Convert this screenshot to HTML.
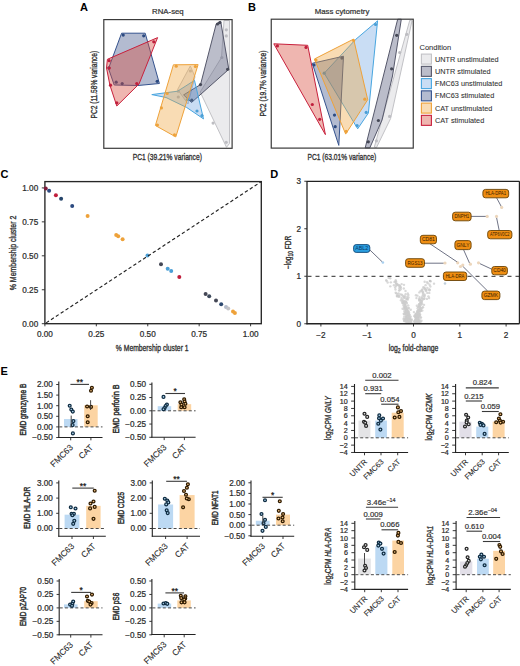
<!DOCTYPE html>
<html><head><meta charset="utf-8"><style>
html,body{margin:0;padding:0;background:#fff;}
svg{display:block;font-family:"Liberation Sans",sans-serif;}
.cd{font-weight:normal;stroke:#333;stroke-width:0.35px;}
.cd2{font-weight:normal;stroke:#333;stroke-width:0.5px;}
</style></head><body>
<svg width="520" height="666" viewBox="0 0 520 666">
<rect width="520" height="666" fill="#fff"/>
<text x="80" y="11" font-size="11" text-anchor="start" fill="#000" font-weight="bold">A</text>
<text x="167.9" y="13.6" font-size="7.8" text-anchor="middle" fill="#333333" stroke="#333333" stroke-width="0.22">RNA-seq</text>
<polygon points="224,20.5 229.5,20.5 229.5,143.5 226.5,147.3 200.2,92 221.5,57.5" fill="#c4c4ca" fill-opacity="0.34" stroke="#c2c2c6" stroke-width="1.0" stroke-linejoin="round"/>
<polygon points="190.3,66 195,76.8 188,104 177.6,89.5" fill="#c4c4ca" fill-opacity="0.34" stroke="#c2c2c6" stroke-width="1.0" stroke-linejoin="round"/>
<circle cx="190.4" cy="71" r="1.6" fill="#bdbdc2" stroke="none" stroke-width="1" opacity="1"/>
<circle cx="178.3" cy="91.2" r="1.6" fill="#bdbdc2" stroke="none" stroke-width="1" opacity="1"/>
<circle cx="178.3" cy="97" r="1.6" fill="#bdbdc2" stroke="none" stroke-width="1" opacity="1"/>
<circle cx="226.3" cy="29.8" r="1.6" fill="#bdbdc2" stroke="none" stroke-width="1" opacity="1"/>
<circle cx="226.3" cy="35.9" r="1.6" fill="#bdbdc2" stroke="none" stroke-width="1" opacity="1"/>
<circle cx="221.8" cy="57.5" r="1.6" fill="#bdbdc2" stroke="none" stroke-width="1" opacity="1"/>
<circle cx="213.1" cy="123.1" r="1.6" fill="#bdbdc2" stroke="none" stroke-width="1" opacity="1"/>
<circle cx="226.2" cy="142.3" r="1.6" fill="#bdbdc2" stroke="none" stroke-width="1" opacity="1"/>
<polygon points="216.2,24 220.7,21.3 228.8,69.3 191.5,102.5 183.6,94.9 200.5,84.6" fill="#686c8a" fill-opacity="0.45" stroke="#55576a" stroke-width="1.0" stroke-linejoin="round"/>
<circle cx="217.5" cy="24" r="1.6" fill="#444755" stroke="none" stroke-width="1" opacity="1"/>
<circle cx="219.8" cy="22.6" r="1.6" fill="#444755" stroke="none" stroke-width="1" opacity="1"/>
<circle cx="227.6" cy="69.3" r="1.6" fill="#444755" stroke="none" stroke-width="1" opacity="1"/>
<circle cx="200.5" cy="84.6" r="1.6" fill="#444755" stroke="none" stroke-width="1" opacity="1"/>
<circle cx="191.8" cy="100.2" r="1.6" fill="#444755" stroke="none" stroke-width="1" opacity="1"/>
<polygon points="151.8,94.6 177.6,91.2 194.5,80.4 203.5,118.9 186.7,107.5 166,97.5" fill="#5090dc" fill-opacity="0.31" stroke="#48a6e0" stroke-width="1.0" stroke-linejoin="round"/>
<circle cx="197" cy="111" r="1.6" fill="#4a9fd6" stroke="none" stroke-width="1" opacity="1"/>
<circle cx="202" cy="115.5" r="1.6" fill="#4a9fd6" stroke="none" stroke-width="1" opacity="1"/>
<circle cx="187.5" cy="99.5" r="1.6" fill="#4a9fd6" stroke="none" stroke-width="1" opacity="1"/>
<polygon points="121.6,33.2 145.2,33.2 159.4,83.5 138,85.5 114.2,85 108.5,68.5" fill="#4a5c90" fill-opacity="0.42" stroke="#35538e" stroke-width="1.0" stroke-linejoin="round"/>
<circle cx="123.2" cy="35.1" r="1.6" fill="#2c4a80" stroke="none" stroke-width="1" opacity="1"/>
<circle cx="143.7" cy="35.8" r="1.6" fill="#2c4a80" stroke="none" stroke-width="1" opacity="1"/>
<circle cx="157.2" cy="81.3" r="1.6" fill="#2c4a80" stroke="none" stroke-width="1" opacity="1"/>
<circle cx="116.2" cy="82.2" r="1.6" fill="#2c4a80" stroke="none" stroke-width="1" opacity="1"/>
<circle cx="122.2" cy="83.6" r="1.6" fill="#2c4a80" stroke="none" stroke-width="1" opacity="1"/>
<circle cx="108.8" cy="67.8" r="1.6" fill="#2c4a80" stroke="none" stroke-width="1" opacity="1"/>
<polygon points="173.4,64.8 198.1,64.6 175.8,136.9 155.4,125.5" fill="#eea23a" fill-opacity="0.38" stroke="#eea23a" stroke-width="1.0" stroke-linejoin="round"/>
<circle cx="176.2" cy="66.2" r="1.6" fill="#eea23a" stroke="none" stroke-width="1" opacity="1"/>
<circle cx="195.4" cy="66.5" r="1.6" fill="#eea23a" stroke="none" stroke-width="1" opacity="1"/>
<circle cx="161.4" cy="107.9" r="1.6" fill="#eea23a" stroke="none" stroke-width="1" opacity="1"/>
<circle cx="157.4" cy="125" r="1.6" fill="#eea23a" stroke="none" stroke-width="1" opacity="1"/>
<circle cx="174.5" cy="134.9" r="1.6" fill="#eea23a" stroke="none" stroke-width="1" opacity="1"/>
<circle cx="167.2" cy="93.5" r="1.6" fill="#eea23a" stroke="none" stroke-width="1" opacity="1"/>
<polygon points="157.6,37.6 139,84 116.8,106 110,85.5 106.5,68 107.4,59.3" fill="#d8483a" fill-opacity="0.4" stroke="#c8203c" stroke-width="1.0" stroke-linejoin="round"/>
<circle cx="153.8" cy="41.8" r="1.6" fill="#c01e3c" stroke="none" stroke-width="1" opacity="1"/>
<circle cx="109.2" cy="60.7" r="1.6" fill="#c01e3c" stroke="none" stroke-width="1" opacity="1"/>
<circle cx="109.2" cy="68.1" r="1.6" fill="#c01e3c" stroke="none" stroke-width="1" opacity="1"/>
<circle cx="110.5" cy="85.2" r="1.6" fill="#c01e3c" stroke="none" stroke-width="1" opacity="1"/>
<circle cx="116.8" cy="102.8" r="1.6" fill="#c01e3c" stroke="none" stroke-width="1" opacity="1"/>
<circle cx="136.8" cy="83.6" r="1.6" fill="#c01e3c" stroke="none" stroke-width="1" opacity="1"/>
<rect x="103.8" y="19.6" width="128.3" height="128.7" fill="none" stroke="#3a3a3a" stroke-width="1.2" rx="0" />
<text class="cd" x="167.3" y="160.2" font-size="9.3" text-anchor="middle" fill="#333333" textLength="69.2" lengthAdjust="spacingAndGlyphs">PC1 (39.21% variance)</text>
<text class="cd" x="97.3" y="84.6" font-size="9.3" text-anchor="middle" fill="#333333" textLength="67.6" lengthAdjust="spacingAndGlyphs" transform="rotate(-90 97.3 84.6)">PC2 (11.58% variance)</text>
<text x="248" y="10.5" font-size="11" text-anchor="start" fill="#000" font-weight="bold">B</text>
<text x="342" y="13.9" font-size="7.8" text-anchor="middle" fill="#333333" stroke="#333333" stroke-width="0.22">Mass cytometry</text>
<polygon points="409.8,20.2 412,20.8 390.6,118.5 376.5,147.5 374.3,147.2" fill="#c4c4ca" fill-opacity="0.34" stroke="#c2c2c6" stroke-width="1.0" stroke-linejoin="round"/>
<circle cx="406.8" cy="34.3" r="1.6" fill="#bdbdc2" stroke="none" stroke-width="1" opacity="1"/>
<circle cx="399.7" cy="52.5" r="1.6" fill="#bdbdc2" stroke="none" stroke-width="1" opacity="1"/>
<circle cx="389.6" cy="116.4" r="1.6" fill="#bdbdc2" stroke="none" stroke-width="1" opacity="1"/>
<circle cx="376.4" cy="140.8" r="1.6" fill="#bdbdc2" stroke="none" stroke-width="1" opacity="1"/>
<polygon points="397.7,19.2 401.3,19.2 392.5,76 382.1,119.8 369.8,147.9 365.2,147.9" fill="#686c8a" fill-opacity="0.45" stroke="#55576a" stroke-width="1.0" stroke-linejoin="round"/>
<circle cx="396.7" cy="35.3" r="1.6" fill="#444755" stroke="none" stroke-width="1" opacity="1"/>
<circle cx="391.6" cy="68.8" r="1.6" fill="#444755" stroke="none" stroke-width="1" opacity="1"/>
<circle cx="378.4" cy="120.5" r="1.6" fill="#444755" stroke="none" stroke-width="1" opacity="1"/>
<circle cx="368.3" cy="141.8" r="1.6" fill="#444755" stroke="none" stroke-width="1" opacity="1"/>
<polygon points="377.6,20.8 355.8,39.3 324.2,73.2 357.7,128.8 368.4,113" fill="#5090dc" fill-opacity="0.31" stroke="#48a6e0" stroke-width="1.0" stroke-linejoin="round"/>
<circle cx="375.6" cy="24.5" r="1.6" fill="#4a9fd6" stroke="none" stroke-width="1" opacity="1"/>
<circle cx="324.2" cy="73.2" r="1.6" fill="#4a9fd6" stroke="none" stroke-width="1" opacity="1"/>
<circle cx="366.2" cy="112.4" r="1.6" fill="#4a9fd6" stroke="none" stroke-width="1" opacity="1"/>
<circle cx="357.1" cy="125.6" r="1.6" fill="#4a9fd6" stroke="none" stroke-width="1" opacity="1"/>
<polygon points="312.3,63.3 343.5,56.2 338.8,145.4" fill="#4a5c90" fill-opacity="0.42" stroke="#35538e" stroke-width="1.0" stroke-linejoin="round"/>
<circle cx="314" cy="65" r="1.6" fill="#2c4a80" stroke="none" stroke-width="1" opacity="1"/>
<circle cx="341.9" cy="58.1" r="1.6" fill="#2c4a80" stroke="none" stroke-width="1" opacity="1"/>
<circle cx="334.5" cy="115.1" r="1.6" fill="#2c4a80" stroke="none" stroke-width="1" opacity="1"/>
<circle cx="335.2" cy="126.7" r="1.6" fill="#2c4a80" stroke="none" stroke-width="1" opacity="1"/>
<polygon points="314.4,59 353.6,39.1 367.7,99.7 345.7,134.1" fill="#eea23a" fill-opacity="0.38" stroke="#eea23a" stroke-width="1.0" stroke-linejoin="round"/>
<circle cx="316" cy="60.1" r="1.6" fill="#eea23a" stroke="none" stroke-width="1" opacity="1"/>
<circle cx="353.6" cy="40.5" r="1.6" fill="#eea23a" stroke="none" stroke-width="1" opacity="1"/>
<circle cx="364.8" cy="99.2" r="1.6" fill="#eea23a" stroke="none" stroke-width="1" opacity="1"/>
<circle cx="346.2" cy="131.4" r="1.6" fill="#eea23a" stroke="none" stroke-width="1" opacity="1"/>
<polygon points="273.8,43.8 307.7,45.3 325.4,134.6" fill="#d8483a" fill-opacity="0.4" stroke="#c8203c" stroke-width="1.0" stroke-linejoin="round"/>
<circle cx="277.4" cy="45.9" r="1.6" fill="#c01e3c" stroke="none" stroke-width="1" opacity="1"/>
<circle cx="306" cy="47.4" r="1.6" fill="#c01e3c" stroke="none" stroke-width="1" opacity="1"/>
<circle cx="312.3" cy="104.5" r="1.6" fill="#c01e3c" stroke="none" stroke-width="1" opacity="1"/>
<circle cx="319.7" cy="119.3" r="1.6" fill="#c01e3c" stroke="none" stroke-width="1" opacity="1"/>
<rect x="271.25" y="19.2" width="142" height="128.9" fill="none" stroke="#3a3a3a" stroke-width="1.2" rx="0" />
<text class="cd" x="341.9" y="160.3" font-size="9.3" text-anchor="middle" fill="#333333" textLength="68.7" lengthAdjust="spacingAndGlyphs">PC1 (63.01% variance)</text>
<text class="cd" x="266.1" y="83.5" font-size="9.3" text-anchor="middle" fill="#333333" textLength="66.1" lengthAdjust="spacingAndGlyphs" transform="rotate(-90 266.1 83.5)">PC2 (19.7% variance)</text>
<text x="419.5" y="49.6" font-size="7.5" text-anchor="start" fill="#333333" stroke="#333333" stroke-width="0.08">Condition</text>
<rect x="421.4" y="54.1" width="10" height="10" fill="#c4c4ca" stroke="#c2c2c6" stroke-width="1.1" rx="0" fill-opacity="0.34"/>
<text x="435" y="61.7" font-size="7.3" text-anchor="start" fill="#333333" stroke="#333333" stroke-width="0.08">UNTR unstimulated</text>
<rect x="421.4" y="66.35" width="10" height="10" fill="#686c8a" stroke="#55576a" stroke-width="1.1" rx="0" fill-opacity="0.45"/>
<text x="435" y="73.95" font-size="7.3" text-anchor="start" fill="#333333" stroke="#333333" stroke-width="0.08">UNTR stimulated</text>
<rect x="421.4" y="78.6" width="10" height="10" fill="#5090dc" stroke="#48a6e0" stroke-width="1.1" rx="0" fill-opacity="0.31"/>
<text x="435" y="86.2" font-size="7.3" text-anchor="start" fill="#333333" stroke="#333333" stroke-width="0.08">FMC63 unstimulated</text>
<rect x="421.4" y="90.85" width="10" height="10" fill="#4a5c90" stroke="#35538e" stroke-width="1.1" rx="0" fill-opacity="0.42"/>
<text x="435" y="98.45" font-size="7.3" text-anchor="start" fill="#333333" stroke="#333333" stroke-width="0.08">FMC63 stimulated</text>
<rect x="421.4" y="103.1" width="10" height="10" fill="#eea23a" stroke="#eea23a" stroke-width="1.1" rx="0" fill-opacity="0.38"/>
<text x="435" y="110.7" font-size="7.3" text-anchor="start" fill="#333333" stroke="#333333" stroke-width="0.08">CAT unstimulated</text>
<rect x="421.4" y="115.35" width="10" height="10" fill="#d8483a" stroke="#c8203c" stroke-width="1.1" rx="0" fill-opacity="0.4"/>
<text x="435" y="122.95" font-size="7.3" text-anchor="start" fill="#333333" stroke="#333333" stroke-width="0.08">CAT stimulated</text>
<text x="0.5" y="178" font-size="11" text-anchor="start" fill="#000" font-weight="bold">C</text>
<rect x="44.9" y="181.6" width="216.4" height="142.1" fill="none" stroke="#262626" stroke-width="1.35" rx="0" />
<line x1="44.9" y1="323.7" x2="44.9" y2="326.3" stroke="#222" stroke-width="0.9" />
<text x="44.9" y="337.3" font-size="8.2" text-anchor="middle" fill="#2b2b2b" stroke="#2b2b2b" stroke-width="0.22">0.00</text>
<line x1="41.8" y1="323.7" x2="44.7" y2="323.7" stroke="#222" stroke-width="0.9" />
<text x="38.2" y="326.6" font-size="8.2" text-anchor="end" fill="#2b2b2b" stroke="#2b2b2b" stroke-width="0.22">0.00</text>
<line x1="96.32" y1="323.7" x2="96.32" y2="326.3" stroke="#222" stroke-width="0.9" />
<text x="96.32" y="337.3" font-size="8.2" text-anchor="middle" fill="#2b2b2b" stroke="#2b2b2b" stroke-width="0.22">0.25</text>
<line x1="41.8" y1="289.75" x2="44.7" y2="289.75" stroke="#222" stroke-width="0.9" />
<text x="38.2" y="292.65" font-size="8.2" text-anchor="end" fill="#2b2b2b" stroke="#2b2b2b" stroke-width="0.22">0.25</text>
<line x1="147.75" y1="323.7" x2="147.75" y2="326.3" stroke="#222" stroke-width="0.9" />
<text x="147.75" y="337.3" font-size="8.2" text-anchor="middle" fill="#2b2b2b" stroke="#2b2b2b" stroke-width="0.22">0.50</text>
<line x1="41.8" y1="255.8" x2="44.7" y2="255.8" stroke="#222" stroke-width="0.9" />
<text x="38.2" y="258.7" font-size="8.2" text-anchor="end" fill="#2b2b2b" stroke="#2b2b2b" stroke-width="0.22">0.50</text>
<line x1="199.17" y1="323.7" x2="199.17" y2="326.3" stroke="#222" stroke-width="0.9" />
<text x="199.17" y="337.3" font-size="8.2" text-anchor="middle" fill="#2b2b2b" stroke="#2b2b2b" stroke-width="0.22">0.75</text>
<line x1="41.8" y1="221.85" x2="44.7" y2="221.85" stroke="#222" stroke-width="0.9" />
<text x="38.2" y="224.75" font-size="8.2" text-anchor="end" fill="#2b2b2b" stroke="#2b2b2b" stroke-width="0.22">0.75</text>
<line x1="250.6" y1="323.7" x2="250.6" y2="326.3" stroke="#222" stroke-width="0.9" />
<text x="250.6" y="337.3" font-size="8.2" text-anchor="middle" fill="#2b2b2b" stroke="#2b2b2b" stroke-width="0.22">1.00</text>
<line x1="41.8" y1="187.9" x2="44.7" y2="187.9" stroke="#222" stroke-width="0.9" />
<text x="38.2" y="190.8" font-size="8.2" text-anchor="end" fill="#2b2b2b" stroke="#2b2b2b" stroke-width="0.22">1.00</text>
<circle cx="45.75" cy="188.5" r="2.0" fill="#7e1c3c" stroke="none" stroke-width="1" opacity="1"/>
<circle cx="49.1" cy="190.7" r="2.0" fill="#2c4a80" stroke="none" stroke-width="1" opacity="1"/>
<circle cx="55.9" cy="195.2" r="2.0" fill="#c01e3c" stroke="none" stroke-width="1" opacity="1"/>
<circle cx="61.1" cy="198.7" r="2.0" fill="#25456a" stroke="none" stroke-width="1" opacity="1"/>
<circle cx="72.2" cy="206" r="2.0" fill="#2c4a80" stroke="none" stroke-width="1" opacity="1"/>
<circle cx="87.6" cy="216" r="2.0" fill="#eea23a" stroke="none" stroke-width="1" opacity="1"/>
<circle cx="116.2" cy="235" r="2.0" fill="#eea23a" stroke="none" stroke-width="1" opacity="1"/>
<circle cx="118.2" cy="236.2" r="2.0" fill="#eea23a" stroke="none" stroke-width="1" opacity="1"/>
<circle cx="122.6" cy="239.2" r="2.0" fill="#eea23a" stroke="none" stroke-width="1" opacity="1"/>
<circle cx="147.5" cy="255.4" r="2.0" fill="#4a9fd6" stroke="none" stroke-width="1" opacity="1"/>
<circle cx="161" cy="264.3" r="2.0" fill="#444755" stroke="none" stroke-width="1" opacity="1"/>
<circle cx="167.7" cy="268.8" r="2.0" fill="#4a9fd6" stroke="none" stroke-width="1" opacity="1"/>
<circle cx="171.2" cy="271" r="2.0" fill="#4a9fd6" stroke="none" stroke-width="1" opacity="1"/>
<circle cx="179.3" cy="276.9" r="2.0" fill="#c01e3c" stroke="none" stroke-width="1" opacity="1"/>
<circle cx="205.6" cy="294.1" r="2.0" fill="#444755" stroke="none" stroke-width="1" opacity="1"/>
<circle cx="209.2" cy="296.3" r="2.0" fill="#3e4a5c" stroke="none" stroke-width="1" opacity="1"/>
<circle cx="216" cy="300.4" r="2.0" fill="#444755" stroke="none" stroke-width="1" opacity="1"/>
<circle cx="221.2" cy="304.2" r="2.0" fill="#2e4a70" stroke="none" stroke-width="1" opacity="1"/>
<circle cx="226" cy="307.1" r="2.0" fill="#b4bccb" stroke="none" stroke-width="1" opacity="1"/>
<circle cx="228.2" cy="308.6" r="2.0" fill="#c4c4c8" stroke="none" stroke-width="1" opacity="1"/>
<circle cx="233" cy="311.4" r="2.0" fill="#eea23a" stroke="none" stroke-width="1" opacity="1"/>
<circle cx="234.9" cy="312.9" r="2.0" fill="#eea23a" stroke="none" stroke-width="1" opacity="1"/>
<line x1="44.9" y1="323.7" x2="261.3" y2="181.6" stroke="#222" stroke-width="1.15" stroke-dasharray="3.4,2.4" stroke-dashoffset="-1.5"/>
<text class="cd" x="152.2" y="351.3" font-size="9" text-anchor="middle" fill="#333333" textLength="72.7" lengthAdjust="spacingAndGlyphs">% Membership cluster 1</text>
<text class="cd" x="16.2" y="253" font-size="9" text-anchor="middle" fill="#333333" textLength="74.5" lengthAdjust="spacingAndGlyphs" transform="rotate(-90 16.2 253)">% Membership cluster 2</text>
<text x="270.3" y="178" font-size="11" text-anchor="start" fill="#000" font-weight="bold">D</text>
<circle cx="415.07" cy="314.55" r="1.2" fill="#cccccc" stroke="none" stroke-width="1" opacity="0.75"/>
<circle cx="417.99" cy="321.05" r="1.2" fill="#cccccc" stroke="none" stroke-width="1" opacity="0.75"/>
<circle cx="404.34" cy="306.77" r="1.2" fill="#cccccc" stroke="none" stroke-width="1" opacity="0.75"/>
<circle cx="407.51" cy="322.03" r="1.2" fill="#cccccc" stroke="none" stroke-width="1" opacity="0.75"/>
<circle cx="421.59" cy="308.5" r="1.2" fill="#cccccc" stroke="none" stroke-width="1" opacity="0.75"/>
<circle cx="406.16" cy="307.5" r="1.2" fill="#cccccc" stroke="none" stroke-width="1" opacity="0.75"/>
<circle cx="404.59" cy="307.12" r="1.2" fill="#cccccc" stroke="none" stroke-width="1" opacity="0.75"/>
<circle cx="407.65" cy="320.22" r="1.2" fill="#cccccc" stroke="none" stroke-width="1" opacity="0.75"/>
<circle cx="416.42" cy="298.09" r="1.2" fill="#cccccc" stroke="none" stroke-width="1" opacity="0.75"/>
<circle cx="419.69" cy="311.95" r="1.2" fill="#cccccc" stroke="none" stroke-width="1" opacity="0.75"/>
<circle cx="408.03" cy="312.75" r="1.2" fill="#cccccc" stroke="none" stroke-width="1" opacity="0.75"/>
<circle cx="396.06" cy="281.5" r="1.2" fill="#cccccc" stroke="none" stroke-width="1" opacity="0.75"/>
<circle cx="420.95" cy="302.46" r="1.2" fill="#cccccc" stroke="none" stroke-width="1" opacity="0.75"/>
<circle cx="410.21" cy="322.27" r="1.2" fill="#cccccc" stroke="none" stroke-width="1" opacity="0.75"/>
<circle cx="414.72" cy="316.3" r="1.2" fill="#cccccc" stroke="none" stroke-width="1" opacity="0.75"/>
<circle cx="396.2" cy="293.35" r="1.2" fill="#cccccc" stroke="none" stroke-width="1" opacity="0.75"/>
<circle cx="406.61" cy="316.4" r="1.2" fill="#cccccc" stroke="none" stroke-width="1" opacity="0.75"/>
<circle cx="405.97" cy="309.88" r="1.2" fill="#cccccc" stroke="none" stroke-width="1" opacity="0.75"/>
<circle cx="415.68" cy="322.06" r="1.2" fill="#cccccc" stroke="none" stroke-width="1" opacity="0.75"/>
<circle cx="416.94" cy="322.29" r="1.2" fill="#cccccc" stroke="none" stroke-width="1" opacity="0.75"/>
<circle cx="408.82" cy="320.14" r="1.2" fill="#cccccc" stroke="none" stroke-width="1" opacity="0.75"/>
<circle cx="417.19" cy="322.3" r="1.2" fill="#cccccc" stroke="none" stroke-width="1" opacity="0.75"/>
<circle cx="417.98" cy="310.2" r="1.2" fill="#cccccc" stroke="none" stroke-width="1" opacity="0.75"/>
<circle cx="408.09" cy="312.38" r="1.2" fill="#cccccc" stroke="none" stroke-width="1" opacity="0.75"/>
<circle cx="406.7" cy="316.47" r="1.2" fill="#cccccc" stroke="none" stroke-width="1" opacity="0.75"/>
<circle cx="417.22" cy="322.3" r="1.2" fill="#cccccc" stroke="none" stroke-width="1" opacity="0.75"/>
<circle cx="408.15" cy="321.08" r="1.2" fill="#cccccc" stroke="none" stroke-width="1" opacity="0.75"/>
<circle cx="408.01" cy="322.25" r="1.2" fill="#cccccc" stroke="none" stroke-width="1" opacity="0.75"/>
<circle cx="424.45" cy="298.44" r="1.2" fill="#cccccc" stroke="none" stroke-width="1" opacity="0.75"/>
<circle cx="424.55" cy="294.56" r="1.2" fill="#cccccc" stroke="none" stroke-width="1" opacity="0.75"/>
<circle cx="405.71" cy="309.11" r="1.2" fill="#cccccc" stroke="none" stroke-width="1" opacity="0.75"/>
<circle cx="415.68" cy="322.29" r="1.2" fill="#cccccc" stroke="none" stroke-width="1" opacity="0.75"/>
<circle cx="429.59" cy="284.74" r="1.2" fill="#cccccc" stroke="none" stroke-width="1" opacity="0.75"/>
<circle cx="400.48" cy="294.41" r="1.2" fill="#cccccc" stroke="none" stroke-width="1" opacity="0.75"/>
<circle cx="408.96" cy="321.49" r="1.2" fill="#cccccc" stroke="none" stroke-width="1" opacity="0.75"/>
<circle cx="402.48" cy="295.43" r="1.2" fill="#cccccc" stroke="none" stroke-width="1" opacity="0.75"/>
<circle cx="406.41" cy="306.81" r="1.2" fill="#cccccc" stroke="none" stroke-width="1" opacity="0.75"/>
<circle cx="422.13" cy="303.66" r="1.2" fill="#cccccc" stroke="none" stroke-width="1" opacity="0.75"/>
<circle cx="408.79" cy="315.62" r="1.2" fill="#cccccc" stroke="none" stroke-width="1" opacity="0.75"/>
<circle cx="417.13" cy="321.91" r="1.2" fill="#cccccc" stroke="none" stroke-width="1" opacity="0.75"/>
<circle cx="419.7" cy="319.94" r="1.2" fill="#cccccc" stroke="none" stroke-width="1" opacity="0.75"/>
<circle cx="403.91" cy="319.18" r="1.2" fill="#cccccc" stroke="none" stroke-width="1" opacity="0.75"/>
<circle cx="415.07" cy="321.77" r="1.2" fill="#cccccc" stroke="none" stroke-width="1" opacity="0.75"/>
<circle cx="406.94" cy="310.2" r="1.2" fill="#cccccc" stroke="none" stroke-width="1" opacity="0.75"/>
<circle cx="404.61" cy="320.84" r="1.2" fill="#cccccc" stroke="none" stroke-width="1" opacity="0.75"/>
<circle cx="416.39" cy="322.15" r="1.2" fill="#cccccc" stroke="none" stroke-width="1" opacity="0.75"/>
<circle cx="417.22" cy="321.23" r="1.2" fill="#cccccc" stroke="none" stroke-width="1" opacity="0.75"/>
<circle cx="405.8" cy="311.45" r="1.2" fill="#cccccc" stroke="none" stroke-width="1" opacity="0.75"/>
<circle cx="418.54" cy="314.62" r="1.2" fill="#cccccc" stroke="none" stroke-width="1" opacity="0.75"/>
<circle cx="408.18" cy="305.33" r="1.2" fill="#cccccc" stroke="none" stroke-width="1" opacity="0.75"/>
<circle cx="416.28" cy="313.72" r="1.2" fill="#cccccc" stroke="none" stroke-width="1" opacity="0.75"/>
<circle cx="402.2" cy="302.86" r="1.2" fill="#cccccc" stroke="none" stroke-width="1" opacity="0.75"/>
<circle cx="418.58" cy="313.44" r="1.2" fill="#cccccc" stroke="none" stroke-width="1" opacity="0.75"/>
<circle cx="406.01" cy="318.58" r="1.2" fill="#cccccc" stroke="none" stroke-width="1" opacity="0.75"/>
<circle cx="402.93" cy="300.7" r="1.2" fill="#cccccc" stroke="none" stroke-width="1" opacity="0.75"/>
<circle cx="419.56" cy="297.09" r="1.2" fill="#cccccc" stroke="none" stroke-width="1" opacity="0.75"/>
<circle cx="429.09" cy="289.37" r="1.2" fill="#cccccc" stroke="none" stroke-width="1" opacity="0.75"/>
<circle cx="395.92" cy="285.95" r="1.2" fill="#cccccc" stroke="none" stroke-width="1" opacity="0.75"/>
<circle cx="418.09" cy="307.02" r="1.2" fill="#cccccc" stroke="none" stroke-width="1" opacity="0.75"/>
<circle cx="408.05" cy="316.95" r="1.2" fill="#cccccc" stroke="none" stroke-width="1" opacity="0.75"/>
<circle cx="419.44" cy="306.27" r="1.2" fill="#cccccc" stroke="none" stroke-width="1" opacity="0.75"/>
<circle cx="420.6" cy="290.97" r="1.2" fill="#cccccc" stroke="none" stroke-width="1" opacity="0.75"/>
<circle cx="420.84" cy="309.19" r="1.2" fill="#cccccc" stroke="none" stroke-width="1" opacity="0.75"/>
<circle cx="408.97" cy="314.18" r="1.2" fill="#cccccc" stroke="none" stroke-width="1" opacity="0.75"/>
<circle cx="408.05" cy="318.79" r="1.2" fill="#cccccc" stroke="none" stroke-width="1" opacity="0.75"/>
<circle cx="406.18" cy="313.49" r="1.2" fill="#cccccc" stroke="none" stroke-width="1" opacity="0.75"/>
<circle cx="421.77" cy="297.97" r="1.2" fill="#cccccc" stroke="none" stroke-width="1" opacity="0.75"/>
<circle cx="408.6" cy="319.96" r="1.2" fill="#cccccc" stroke="none" stroke-width="1" opacity="0.75"/>
<circle cx="405.04" cy="307.69" r="1.2" fill="#cccccc" stroke="none" stroke-width="1" opacity="0.75"/>
<circle cx="419.82" cy="299.65" r="1.2" fill="#cccccc" stroke="none" stroke-width="1" opacity="0.75"/>
<circle cx="422" cy="290.07" r="1.2" fill="#cccccc" stroke="none" stroke-width="1" opacity="0.75"/>
<circle cx="418.33" cy="316.16" r="1.2" fill="#cccccc" stroke="none" stroke-width="1" opacity="0.75"/>
<circle cx="399.23" cy="296.23" r="1.2" fill="#cccccc" stroke="none" stroke-width="1" opacity="0.75"/>
<circle cx="425.97" cy="290.93" r="1.2" fill="#cccccc" stroke="none" stroke-width="1" opacity="0.75"/>
<circle cx="404.57" cy="320.75" r="1.2" fill="#cccccc" stroke="none" stroke-width="1" opacity="0.75"/>
<circle cx="407.76" cy="312.88" r="1.2" fill="#cccccc" stroke="none" stroke-width="1" opacity="0.75"/>
<circle cx="411.74" cy="319.54" r="1.2" fill="#cccccc" stroke="none" stroke-width="1" opacity="0.75"/>
<circle cx="416.78" cy="321.88" r="1.2" fill="#cccccc" stroke="none" stroke-width="1" opacity="0.75"/>
<circle cx="418.93" cy="315.87" r="1.2" fill="#cccccc" stroke="none" stroke-width="1" opacity="0.75"/>
<circle cx="419.02" cy="304.5" r="1.2" fill="#cccccc" stroke="none" stroke-width="1" opacity="0.75"/>
<circle cx="405.22" cy="319.51" r="1.2" fill="#cccccc" stroke="none" stroke-width="1" opacity="0.75"/>
<circle cx="419.15" cy="304.16" r="1.2" fill="#cccccc" stroke="none" stroke-width="1" opacity="0.75"/>
<circle cx="403.95" cy="297.21" r="1.2" fill="#cccccc" stroke="none" stroke-width="1" opacity="0.75"/>
<circle cx="419.53" cy="306.19" r="1.2" fill="#cccccc" stroke="none" stroke-width="1" opacity="0.75"/>
<circle cx="401.71" cy="294.6" r="1.2" fill="#cccccc" stroke="none" stroke-width="1" opacity="0.75"/>
<circle cx="401.45" cy="298.02" r="1.2" fill="#cccccc" stroke="none" stroke-width="1" opacity="0.75"/>
<circle cx="416.87" cy="321.91" r="1.2" fill="#cccccc" stroke="none" stroke-width="1" opacity="0.75"/>
<circle cx="397.04" cy="284.79" r="1.2" fill="#cccccc" stroke="none" stroke-width="1" opacity="0.75"/>
<circle cx="406.44" cy="321.2" r="1.2" fill="#cccccc" stroke="none" stroke-width="1" opacity="0.75"/>
<circle cx="402.41" cy="299.57" r="1.2" fill="#cccccc" stroke="none" stroke-width="1" opacity="0.75"/>
<circle cx="406.54" cy="317.89" r="1.2" fill="#cccccc" stroke="none" stroke-width="1" opacity="0.75"/>
<circle cx="404.3" cy="316.52" r="1.2" fill="#cccccc" stroke="none" stroke-width="1" opacity="0.75"/>
<circle cx="402.16" cy="301.59" r="1.2" fill="#cccccc" stroke="none" stroke-width="1" opacity="0.75"/>
<circle cx="409.62" cy="314.62" r="1.2" fill="#cccccc" stroke="none" stroke-width="1" opacity="0.75"/>
<circle cx="415.15" cy="317.02" r="1.2" fill="#cccccc" stroke="none" stroke-width="1" opacity="0.75"/>
<circle cx="404.45" cy="314.14" r="1.2" fill="#cccccc" stroke="none" stroke-width="1" opacity="0.75"/>
<circle cx="398.89" cy="296.75" r="1.2" fill="#cccccc" stroke="none" stroke-width="1" opacity="0.75"/>
<circle cx="421.47" cy="320.7" r="1.2" fill="#cccccc" stroke="none" stroke-width="1" opacity="0.75"/>
<circle cx="418.19" cy="311.19" r="1.2" fill="#cccccc" stroke="none" stroke-width="1" opacity="0.75"/>
<circle cx="408.37" cy="319.84" r="1.2" fill="#cccccc" stroke="none" stroke-width="1" opacity="0.75"/>
<circle cx="418.54" cy="314.96" r="1.2" fill="#cccccc" stroke="none" stroke-width="1" opacity="0.75"/>
<circle cx="423.92" cy="298.73" r="1.2" fill="#cccccc" stroke="none" stroke-width="1" opacity="0.75"/>
<circle cx="423.17" cy="291.88" r="1.2" fill="#cccccc" stroke="none" stroke-width="1" opacity="0.75"/>
<circle cx="407.36" cy="296.65" r="1.2" fill="#cccccc" stroke="none" stroke-width="1" opacity="0.75"/>
<circle cx="424.64" cy="288.2" r="1.2" fill="#cccccc" stroke="none" stroke-width="1" opacity="0.75"/>
<circle cx="418.75" cy="321.55" r="1.2" fill="#cccccc" stroke="none" stroke-width="1" opacity="0.75"/>
<circle cx="399.74" cy="285.56" r="1.2" fill="#cccccc" stroke="none" stroke-width="1" opacity="0.75"/>
<circle cx="419.13" cy="299.4" r="1.2" fill="#cccccc" stroke="none" stroke-width="1" opacity="0.75"/>
<circle cx="404.21" cy="301.2" r="1.2" fill="#cccccc" stroke="none" stroke-width="1" opacity="0.75"/>
<circle cx="418.01" cy="311.8" r="1.2" fill="#cccccc" stroke="none" stroke-width="1" opacity="0.75"/>
<circle cx="398.62" cy="293.5" r="1.2" fill="#cccccc" stroke="none" stroke-width="1" opacity="0.75"/>
<circle cx="405.94" cy="318.93" r="1.2" fill="#cccccc" stroke="none" stroke-width="1" opacity="0.75"/>
<circle cx="406.51" cy="309.57" r="1.2" fill="#cccccc" stroke="none" stroke-width="1" opacity="0.75"/>
<circle cx="409.56" cy="315.96" r="1.2" fill="#cccccc" stroke="none" stroke-width="1" opacity="0.75"/>
<circle cx="408.34" cy="322.28" r="1.2" fill="#cccccc" stroke="none" stroke-width="1" opacity="0.75"/>
<circle cx="413.9" cy="312.08" r="1.2" fill="#cccccc" stroke="none" stroke-width="1" opacity="0.75"/>
<circle cx="409.56" cy="321.81" r="1.2" fill="#cccccc" stroke="none" stroke-width="1" opacity="0.75"/>
<circle cx="403" cy="303.43" r="1.2" fill="#cccccc" stroke="none" stroke-width="1" opacity="0.75"/>
<circle cx="424.3" cy="287.82" r="1.2" fill="#cccccc" stroke="none" stroke-width="1" opacity="0.75"/>
<circle cx="415.78" cy="319.69" r="1.2" fill="#cccccc" stroke="none" stroke-width="1" opacity="0.75"/>
<circle cx="425.32" cy="289.37" r="1.2" fill="#cccccc" stroke="none" stroke-width="1" opacity="0.75"/>
<circle cx="405.78" cy="311.71" r="1.2" fill="#cccccc" stroke="none" stroke-width="1" opacity="0.75"/>
<circle cx="395.13" cy="287.47" r="1.2" fill="#cccccc" stroke="none" stroke-width="1" opacity="0.75"/>
<circle cx="403.53" cy="302.79" r="1.2" fill="#cccccc" stroke="none" stroke-width="1" opacity="0.75"/>
<circle cx="417.11" cy="322.3" r="1.2" fill="#cccccc" stroke="none" stroke-width="1" opacity="0.75"/>
<circle cx="417.48" cy="318.5" r="1.2" fill="#cccccc" stroke="none" stroke-width="1" opacity="0.75"/>
<circle cx="404.91" cy="312.75" r="1.2" fill="#cccccc" stroke="none" stroke-width="1" opacity="0.75"/>
<circle cx="422.84" cy="293.02" r="1.2" fill="#cccccc" stroke="none" stroke-width="1" opacity="0.75"/>
<circle cx="405.52" cy="291.05" r="1.2" fill="#cccccc" stroke="none" stroke-width="1" opacity="0.75"/>
<circle cx="418.65" cy="317.05" r="1.2" fill="#cccccc" stroke="none" stroke-width="1" opacity="0.75"/>
<circle cx="408.43" cy="311.14" r="1.2" fill="#cccccc" stroke="none" stroke-width="1" opacity="0.75"/>
<circle cx="406.25" cy="311.51" r="1.2" fill="#cccccc" stroke="none" stroke-width="1" opacity="0.75"/>
<circle cx="397.13" cy="295.93" r="1.2" fill="#cccccc" stroke="none" stroke-width="1" opacity="0.75"/>
<circle cx="418.2" cy="318.65" r="1.2" fill="#cccccc" stroke="none" stroke-width="1" opacity="0.75"/>
<circle cx="404.38" cy="298.08" r="1.2" fill="#cccccc" stroke="none" stroke-width="1" opacity="0.75"/>
<circle cx="399.09" cy="290.39" r="1.2" fill="#cccccc" stroke="none" stroke-width="1" opacity="0.75"/>
<circle cx="416.38" cy="322.05" r="1.2" fill="#cccccc" stroke="none" stroke-width="1" opacity="0.75"/>
<circle cx="414.53" cy="321.99" r="1.2" fill="#cccccc" stroke="none" stroke-width="1" opacity="0.75"/>
<circle cx="408.79" cy="320.89" r="1.2" fill="#cccccc" stroke="none" stroke-width="1" opacity="0.75"/>
<circle cx="420.51" cy="322" r="1.2" fill="#cccccc" stroke="none" stroke-width="1" opacity="0.75"/>
<circle cx="414.73" cy="321.86" r="1.2" fill="#cccccc" stroke="none" stroke-width="1" opacity="0.75"/>
<circle cx="406.17" cy="312.62" r="1.2" fill="#cccccc" stroke="none" stroke-width="1" opacity="0.75"/>
<circle cx="415.17" cy="322.28" r="1.2" fill="#cccccc" stroke="none" stroke-width="1" opacity="0.75"/>
<circle cx="407.47" cy="321.57" r="1.2" fill="#cccccc" stroke="none" stroke-width="1" opacity="0.75"/>
<circle cx="417.66" cy="321.45" r="1.2" fill="#cccccc" stroke="none" stroke-width="1" opacity="0.75"/>
<circle cx="400.72" cy="287.34" r="1.2" fill="#cccccc" stroke="none" stroke-width="1" opacity="0.75"/>
<circle cx="405.18" cy="304" r="1.2" fill="#cccccc" stroke="none" stroke-width="1" opacity="0.75"/>
<circle cx="419.27" cy="298.96" r="1.2" fill="#cccccc" stroke="none" stroke-width="1" opacity="0.75"/>
<circle cx="406.59" cy="317.65" r="1.2" fill="#cccccc" stroke="none" stroke-width="1" opacity="0.75"/>
<circle cx="406.13" cy="308.23" r="1.2" fill="#cccccc" stroke="none" stroke-width="1" opacity="0.75"/>
<circle cx="416.73" cy="320.9" r="1.2" fill="#cccccc" stroke="none" stroke-width="1" opacity="0.75"/>
<circle cx="417.21" cy="314.49" r="1.2" fill="#cccccc" stroke="none" stroke-width="1" opacity="0.75"/>
<circle cx="407.59" cy="321.37" r="1.2" fill="#cccccc" stroke="none" stroke-width="1" opacity="0.75"/>
<circle cx="406.98" cy="318.46" r="1.2" fill="#cccccc" stroke="none" stroke-width="1" opacity="0.75"/>
<circle cx="419.34" cy="292.38" r="1.2" fill="#cccccc" stroke="none" stroke-width="1" opacity="0.75"/>
<circle cx="410.71" cy="309.72" r="1.2" fill="#cccccc" stroke="none" stroke-width="1" opacity="0.75"/>
<circle cx="422.47" cy="296.31" r="1.2" fill="#cccccc" stroke="none" stroke-width="1" opacity="0.75"/>
<circle cx="408.03" cy="319.48" r="1.2" fill="#cccccc" stroke="none" stroke-width="1" opacity="0.75"/>
<circle cx="417.39" cy="295.64" r="1.2" fill="#cccccc" stroke="none" stroke-width="1" opacity="0.75"/>
<circle cx="418.77" cy="321.71" r="1.2" fill="#cccccc" stroke="none" stroke-width="1" opacity="0.75"/>
<circle cx="406.65" cy="298.79" r="1.2" fill="#cccccc" stroke="none" stroke-width="1" opacity="0.75"/>
<circle cx="406.09" cy="316.13" r="1.2" fill="#cccccc" stroke="none" stroke-width="1" opacity="0.75"/>
<circle cx="406.39" cy="313.95" r="1.2" fill="#cccccc" stroke="none" stroke-width="1" opacity="0.75"/>
<circle cx="399.52" cy="290.35" r="1.2" fill="#cccccc" stroke="none" stroke-width="1" opacity="0.75"/>
<circle cx="424.04" cy="304.83" r="1.2" fill="#cccccc" stroke="none" stroke-width="1" opacity="0.75"/>
<circle cx="415.32" cy="320.66" r="1.2" fill="#cccccc" stroke="none" stroke-width="1" opacity="0.75"/>
<circle cx="416.87" cy="316.64" r="1.2" fill="#cccccc" stroke="none" stroke-width="1" opacity="0.75"/>
<circle cx="404.98" cy="306.12" r="1.2" fill="#cccccc" stroke="none" stroke-width="1" opacity="0.75"/>
<circle cx="419.61" cy="300.59" r="1.2" fill="#cccccc" stroke="none" stroke-width="1" opacity="0.75"/>
<circle cx="423.13" cy="299.18" r="1.2" fill="#cccccc" stroke="none" stroke-width="1" opacity="0.75"/>
<circle cx="416.88" cy="322.3" r="1.2" fill="#cccccc" stroke="none" stroke-width="1" opacity="0.75"/>
<circle cx="422.32" cy="310.61" r="1.2" fill="#cccccc" stroke="none" stroke-width="1" opacity="0.75"/>
<circle cx="401.64" cy="284.08" r="1.2" fill="#cccccc" stroke="none" stroke-width="1" opacity="0.75"/>
<circle cx="410.5" cy="322.12" r="1.2" fill="#cccccc" stroke="none" stroke-width="1" opacity="0.75"/>
<circle cx="410.7" cy="316.73" r="1.2" fill="#cccccc" stroke="none" stroke-width="1" opacity="0.75"/>
<circle cx="395.69" cy="292.75" r="1.2" fill="#cccccc" stroke="none" stroke-width="1" opacity="0.75"/>
<circle cx="416.21" cy="315.35" r="1.2" fill="#cccccc" stroke="none" stroke-width="1" opacity="0.75"/>
<circle cx="420.28" cy="308.38" r="1.2" fill="#cccccc" stroke="none" stroke-width="1" opacity="0.75"/>
<circle cx="417.52" cy="311.47" r="1.2" fill="#cccccc" stroke="none" stroke-width="1" opacity="0.75"/>
<circle cx="415.58" cy="319.39" r="1.2" fill="#cccccc" stroke="none" stroke-width="1" opacity="0.75"/>
<circle cx="410.24" cy="322.28" r="1.2" fill="#cccccc" stroke="none" stroke-width="1" opacity="0.75"/>
<circle cx="416.65" cy="316.03" r="1.2" fill="#cccccc" stroke="none" stroke-width="1" opacity="0.75"/>
<circle cx="416.9" cy="322.21" r="1.2" fill="#cccccc" stroke="none" stroke-width="1" opacity="0.75"/>
<circle cx="427.09" cy="282.26" r="1.2" fill="#cccccc" stroke="none" stroke-width="1" opacity="0.75"/>
<circle cx="409.93" cy="322.13" r="1.2" fill="#cccccc" stroke="none" stroke-width="1" opacity="0.75"/>
<circle cx="396.09" cy="283.58" r="1.2" fill="#cccccc" stroke="none" stroke-width="1" opacity="0.75"/>
<circle cx="405.93" cy="322.24" r="1.2" fill="#cccccc" stroke="none" stroke-width="1" opacity="0.75"/>
<circle cx="408.01" cy="313.96" r="1.2" fill="#cccccc" stroke="none" stroke-width="1" opacity="0.75"/>
<circle cx="404.21" cy="308.1" r="1.2" fill="#cccccc" stroke="none" stroke-width="1" opacity="0.75"/>
<circle cx="407.73" cy="321.84" r="1.2" fill="#cccccc" stroke="none" stroke-width="1" opacity="0.75"/>
<circle cx="406.42" cy="317.59" r="1.2" fill="#cccccc" stroke="none" stroke-width="1" opacity="0.75"/>
<circle cx="421.46" cy="304.73" r="1.2" fill="#cccccc" stroke="none" stroke-width="1" opacity="0.75"/>
<circle cx="417.65" cy="308.22" r="1.2" fill="#cccccc" stroke="none" stroke-width="1" opacity="0.75"/>
<circle cx="398.26" cy="295.61" r="1.2" fill="#cccccc" stroke="none" stroke-width="1" opacity="0.75"/>
<circle cx="398.26" cy="285.27" r="1.2" fill="#cccccc" stroke="none" stroke-width="1" opacity="0.75"/>
<circle cx="426.52" cy="290" r="1.2" fill="#cccccc" stroke="none" stroke-width="1" opacity="0.75"/>
<circle cx="409.74" cy="319.58" r="1.2" fill="#cccccc" stroke="none" stroke-width="1" opacity="0.75"/>
<circle cx="410.13" cy="321.05" r="1.2" fill="#cccccc" stroke="none" stroke-width="1" opacity="0.75"/>
<circle cx="406.44" cy="312.65" r="1.2" fill="#cccccc" stroke="none" stroke-width="1" opacity="0.75"/>
<circle cx="416.6" cy="322.19" r="1.2" fill="#cccccc" stroke="none" stroke-width="1" opacity="0.75"/>
<circle cx="408.52" cy="319.89" r="1.2" fill="#cccccc" stroke="none" stroke-width="1" opacity="0.75"/>
<circle cx="406.95" cy="310.99" r="1.2" fill="#cccccc" stroke="none" stroke-width="1" opacity="0.75"/>
<circle cx="407.79" cy="299.53" r="1.2" fill="#cccccc" stroke="none" stroke-width="1" opacity="0.75"/>
<circle cx="416.92" cy="317.13" r="1.2" fill="#cccccc" stroke="none" stroke-width="1" opacity="0.75"/>
<circle cx="416.07" cy="317.67" r="1.2" fill="#cccccc" stroke="none" stroke-width="1" opacity="0.75"/>
<circle cx="397.29" cy="293.97" r="1.2" fill="#cccccc" stroke="none" stroke-width="1" opacity="0.75"/>
<circle cx="424.29" cy="296.49" r="1.2" fill="#cccccc" stroke="none" stroke-width="1" opacity="0.75"/>
<circle cx="407.41" cy="298.7" r="1.2" fill="#cccccc" stroke="none" stroke-width="1" opacity="0.75"/>
<circle cx="417.31" cy="314.84" r="1.2" fill="#cccccc" stroke="none" stroke-width="1" opacity="0.75"/>
<circle cx="417.58" cy="321.5" r="1.2" fill="#cccccc" stroke="none" stroke-width="1" opacity="0.75"/>
<circle cx="409.27" cy="319.23" r="1.2" fill="#cccccc" stroke="none" stroke-width="1" opacity="0.75"/>
<circle cx="417.61" cy="321.99" r="1.2" fill="#cccccc" stroke="none" stroke-width="1" opacity="0.75"/>
<circle cx="410.16" cy="322.1" r="1.2" fill="#cccccc" stroke="none" stroke-width="1" opacity="0.75"/>
<circle cx="424.67" cy="295.6" r="1.2" fill="#cccccc" stroke="none" stroke-width="1" opacity="0.75"/>
<circle cx="406.88" cy="319.05" r="1.2" fill="#cccccc" stroke="none" stroke-width="1" opacity="0.75"/>
<circle cx="404.53" cy="305.05" r="1.2" fill="#cccccc" stroke="none" stroke-width="1" opacity="0.75"/>
<circle cx="420.27" cy="303.2" r="1.2" fill="#cccccc" stroke="none" stroke-width="1" opacity="0.75"/>
<circle cx="410.35" cy="319.41" r="1.2" fill="#cccccc" stroke="none" stroke-width="1" opacity="0.75"/>
<circle cx="416.58" cy="320.61" r="1.2" fill="#cccccc" stroke="none" stroke-width="1" opacity="0.75"/>
<circle cx="421.48" cy="302.37" r="1.2" fill="#cccccc" stroke="none" stroke-width="1" opacity="0.75"/>
<circle cx="416.89" cy="315.06" r="1.2" fill="#cccccc" stroke="none" stroke-width="1" opacity="0.75"/>
<circle cx="397.26" cy="284.03" r="1.2" fill="#cccccc" stroke="none" stroke-width="1" opacity="0.75"/>
<circle cx="419.31" cy="322.07" r="1.2" fill="#cccccc" stroke="none" stroke-width="1" opacity="0.75"/>
<circle cx="405.64" cy="309.01" r="1.2" fill="#cccccc" stroke="none" stroke-width="1" opacity="0.75"/>
<circle cx="421.97" cy="300.59" r="1.2" fill="#cccccc" stroke="none" stroke-width="1" opacity="0.75"/>
<circle cx="405.56" cy="294.13" r="1.2" fill="#cccccc" stroke="none" stroke-width="1" opacity="0.75"/>
<circle cx="417.99" cy="321.22" r="1.2" fill="#cccccc" stroke="none" stroke-width="1" opacity="0.75"/>
<circle cx="409.18" cy="322.29" r="1.2" fill="#cccccc" stroke="none" stroke-width="1" opacity="0.75"/>
<circle cx="421.06" cy="310.88" r="1.2" fill="#cccccc" stroke="none" stroke-width="1" opacity="0.75"/>
<circle cx="403.46" cy="296.35" r="1.2" fill="#cccccc" stroke="none" stroke-width="1" opacity="0.75"/>
<circle cx="419.33" cy="309.15" r="1.2" fill="#cccccc" stroke="none" stroke-width="1" opacity="0.75"/>
<circle cx="408.93" cy="322.09" r="1.2" fill="#cccccc" stroke="none" stroke-width="1" opacity="0.75"/>
<circle cx="395.47" cy="289.51" r="1.2" fill="#cccccc" stroke="none" stroke-width="1" opacity="0.75"/>
<circle cx="417.32" cy="321.99" r="1.2" fill="#cccccc" stroke="none" stroke-width="1" opacity="0.75"/>
<circle cx="411.51" cy="320.15" r="1.2" fill="#cccccc" stroke="none" stroke-width="1" opacity="0.75"/>
<circle cx="417.72" cy="318.09" r="1.2" fill="#cccccc" stroke="none" stroke-width="1" opacity="0.75"/>
<circle cx="418.24" cy="316.49" r="1.2" fill="#cccccc" stroke="none" stroke-width="1" opacity="0.75"/>
<circle cx="415.63" cy="321.67" r="1.2" fill="#cccccc" stroke="none" stroke-width="1" opacity="0.75"/>
<circle cx="407.39" cy="311.17" r="1.2" fill="#cccccc" stroke="none" stroke-width="1" opacity="0.75"/>
<circle cx="414.39" cy="315.98" r="1.2" fill="#cccccc" stroke="none" stroke-width="1" opacity="0.75"/>
<circle cx="427.26" cy="292.9" r="1.2" fill="#cccccc" stroke="none" stroke-width="1" opacity="0.75"/>
<circle cx="403.99" cy="284.85" r="1.2" fill="#cccccc" stroke="none" stroke-width="1" opacity="0.75"/>
<circle cx="406.05" cy="311.75" r="1.2" fill="#cccccc" stroke="none" stroke-width="1" opacity="0.75"/>
<circle cx="408.91" cy="315.65" r="1.2" fill="#cccccc" stroke="none" stroke-width="1" opacity="0.75"/>
<circle cx="406.47" cy="320.15" r="1.2" fill="#cccccc" stroke="none" stroke-width="1" opacity="0.75"/>
<circle cx="408.27" cy="321.34" r="1.2" fill="#cccccc" stroke="none" stroke-width="1" opacity="0.75"/>
<circle cx="417.2" cy="316.64" r="1.2" fill="#cccccc" stroke="none" stroke-width="1" opacity="0.75"/>
<circle cx="403.7" cy="313.85" r="1.2" fill="#cccccc" stroke="none" stroke-width="1" opacity="0.75"/>
<circle cx="407.69" cy="318.95" r="1.2" fill="#cccccc" stroke="none" stroke-width="1" opacity="0.75"/>
<circle cx="415.92" cy="322.18" r="1.2" fill="#cccccc" stroke="none" stroke-width="1" opacity="0.75"/>
<circle cx="417.27" cy="322.29" r="1.2" fill="#cccccc" stroke="none" stroke-width="1" opacity="0.75"/>
<circle cx="408.49" cy="321.91" r="1.2" fill="#cccccc" stroke="none" stroke-width="1" opacity="0.75"/>
<circle cx="409.1" cy="317.52" r="1.2" fill="#cccccc" stroke="none" stroke-width="1" opacity="0.75"/>
<circle cx="417.42" cy="312.39" r="1.2" fill="#cccccc" stroke="none" stroke-width="1" opacity="0.75"/>
<circle cx="414.17" cy="321.11" r="1.2" fill="#cccccc" stroke="none" stroke-width="1" opacity="0.75"/>
<circle cx="430.36" cy="286.51" r="1.2" fill="#cccccc" stroke="none" stroke-width="1" opacity="0.75"/>
<circle cx="429.27" cy="292.91" r="1.2" fill="#cccccc" stroke="none" stroke-width="1" opacity="0.75"/>
<circle cx="410.01" cy="317.99" r="1.2" fill="#cccccc" stroke="none" stroke-width="1" opacity="0.75"/>
<circle cx="407.82" cy="313.42" r="1.2" fill="#cccccc" stroke="none" stroke-width="1" opacity="0.75"/>
<circle cx="417.64" cy="321.7" r="1.2" fill="#cccccc" stroke="none" stroke-width="1" opacity="0.75"/>
<circle cx="427.91" cy="283.34" r="1.2" fill="#cccccc" stroke="none" stroke-width="1" opacity="0.75"/>
<circle cx="400.37" cy="287.55" r="1.2" fill="#cccccc" stroke="none" stroke-width="1" opacity="0.75"/>
<circle cx="422.14" cy="291.4" r="1.2" fill="#cccccc" stroke="none" stroke-width="1" opacity="0.75"/>
<circle cx="406.95" cy="315.62" r="1.2" fill="#cccccc" stroke="none" stroke-width="1" opacity="0.75"/>
<circle cx="419.99" cy="315.81" r="1.2" fill="#cccccc" stroke="none" stroke-width="1" opacity="0.75"/>
<circle cx="396.85" cy="295.96" r="1.2" fill="#cccccc" stroke="none" stroke-width="1" opacity="0.75"/>
<circle cx="419.29" cy="306.4" r="1.2" fill="#cccccc" stroke="none" stroke-width="1" opacity="0.75"/>
<circle cx="406.19" cy="309.62" r="1.2" fill="#cccccc" stroke="none" stroke-width="1" opacity="0.75"/>
<circle cx="408.01" cy="322.3" r="1.2" fill="#cccccc" stroke="none" stroke-width="1" opacity="0.75"/>
<circle cx="408.55" cy="319.68" r="1.2" fill="#cccccc" stroke="none" stroke-width="1" opacity="0.75"/>
<circle cx="429.48" cy="290.23" r="1.2" fill="#cccccc" stroke="none" stroke-width="1" opacity="0.75"/>
<circle cx="420.11" cy="310.91" r="1.2" fill="#cccccc" stroke="none" stroke-width="1" opacity="0.75"/>
<circle cx="411.39" cy="322.29" r="1.2" fill="#cccccc" stroke="none" stroke-width="1" opacity="0.75"/>
<circle cx="418.71" cy="322.03" r="1.2" fill="#cccccc" stroke="none" stroke-width="1" opacity="0.75"/>
<circle cx="416.17" cy="320.78" r="1.2" fill="#cccccc" stroke="none" stroke-width="1" opacity="0.75"/>
<circle cx="423.05" cy="294.44" r="1.2" fill="#cccccc" stroke="none" stroke-width="1" opacity="0.75"/>
<circle cx="418.61" cy="318.65" r="1.2" fill="#cccccc" stroke="none" stroke-width="1" opacity="0.75"/>
<circle cx="406.4" cy="314.01" r="1.2" fill="#cccccc" stroke="none" stroke-width="1" opacity="0.75"/>
<circle cx="406.37" cy="317.51" r="1.2" fill="#cccccc" stroke="none" stroke-width="1" opacity="0.75"/>
<circle cx="406.08" cy="314.21" r="1.2" fill="#cccccc" stroke="none" stroke-width="1" opacity="0.75"/>
<circle cx="403.5" cy="305.5" r="1.2" fill="#cccccc" stroke="none" stroke-width="1" opacity="0.75"/>
<circle cx="416.32" cy="313.7" r="1.2" fill="#cccccc" stroke="none" stroke-width="1" opacity="0.75"/>
<circle cx="419.42" cy="309.98" r="1.2" fill="#cccccc" stroke="none" stroke-width="1" opacity="0.75"/>
<circle cx="407.78" cy="293.55" r="1.2" fill="#cccccc" stroke="none" stroke-width="1" opacity="0.75"/>
<circle cx="400.77" cy="289.32" r="1.2" fill="#cccccc" stroke="none" stroke-width="1" opacity="0.75"/>
<circle cx="420.26" cy="311.07" r="1.2" fill="#cccccc" stroke="none" stroke-width="1" opacity="0.75"/>
<circle cx="425.59" cy="285.15" r="1.2" fill="#cccccc" stroke="none" stroke-width="1" opacity="0.75"/>
<circle cx="416.82" cy="321.06" r="1.2" fill="#cccccc" stroke="none" stroke-width="1" opacity="0.75"/>
<circle cx="420.79" cy="301.04" r="1.2" fill="#cccccc" stroke="none" stroke-width="1" opacity="0.75"/>
<circle cx="419.38" cy="313.91" r="1.2" fill="#cccccc" stroke="none" stroke-width="1" opacity="0.75"/>
<circle cx="418.77" cy="314.75" r="1.2" fill="#cccccc" stroke="none" stroke-width="1" opacity="0.75"/>
<circle cx="407.78" cy="322.01" r="1.2" fill="#cccccc" stroke="none" stroke-width="1" opacity="0.75"/>
<circle cx="418.78" cy="321.18" r="1.2" fill="#cccccc" stroke="none" stroke-width="1" opacity="0.75"/>
<circle cx="404" cy="302.68" r="1.2" fill="#cccccc" stroke="none" stroke-width="1" opacity="0.75"/>
<circle cx="406.37" cy="320.49" r="1.2" fill="#cccccc" stroke="none" stroke-width="1" opacity="0.75"/>
<circle cx="421.74" cy="298.54" r="1.2" fill="#cccccc" stroke="none" stroke-width="1" opacity="0.75"/>
<circle cx="427.36" cy="287.84" r="1.2" fill="#cccccc" stroke="none" stroke-width="1" opacity="0.75"/>
<circle cx="408.5" cy="320.82" r="1.2" fill="#cccccc" stroke="none" stroke-width="1" opacity="0.75"/>
<circle cx="415.92" cy="295.2" r="1.2" fill="#cccccc" stroke="none" stroke-width="1" opacity="0.75"/>
<circle cx="420.03" cy="307.12" r="1.2" fill="#cccccc" stroke="none" stroke-width="1" opacity="0.75"/>
<circle cx="422.33" cy="307.62" r="1.2" fill="#cccccc" stroke="none" stroke-width="1" opacity="0.75"/>
<circle cx="405.39" cy="305.15" r="1.2" fill="#cccccc" stroke="none" stroke-width="1" opacity="0.75"/>
<circle cx="409.25" cy="319.86" r="1.2" fill="#cccccc" stroke="none" stroke-width="1" opacity="0.75"/>
<circle cx="418.89" cy="321.93" r="1.2" fill="#cccccc" stroke="none" stroke-width="1" opacity="0.75"/>
<circle cx="417.8" cy="320.83" r="1.2" fill="#cccccc" stroke="none" stroke-width="1" opacity="0.75"/>
<circle cx="408.6" cy="307.71" r="1.2" fill="#cccccc" stroke="none" stroke-width="1" opacity="0.75"/>
<circle cx="415.77" cy="320" r="1.2" fill="#cccccc" stroke="none" stroke-width="1" opacity="0.75"/>
<circle cx="407.23" cy="312.72" r="1.2" fill="#cccccc" stroke="none" stroke-width="1" opacity="0.75"/>
<circle cx="404.19" cy="309.51" r="1.2" fill="#cccccc" stroke="none" stroke-width="1" opacity="0.75"/>
<circle cx="404.38" cy="302.01" r="1.2" fill="#cccccc" stroke="none" stroke-width="1" opacity="0.75"/>
<circle cx="406.92" cy="309.83" r="1.2" fill="#cccccc" stroke="none" stroke-width="1" opacity="0.75"/>
<circle cx="409.03" cy="322.08" r="1.2" fill="#cccccc" stroke="none" stroke-width="1" opacity="0.75"/>
<circle cx="417.78" cy="313.6" r="1.2" fill="#cccccc" stroke="none" stroke-width="1" opacity="0.75"/>
<circle cx="423.35" cy="287.17" r="1.2" fill="#cccccc" stroke="none" stroke-width="1" opacity="0.75"/>
<circle cx="410.44" cy="319.76" r="1.2" fill="#cccccc" stroke="none" stroke-width="1" opacity="0.75"/>
<circle cx="407.28" cy="320.28" r="1.2" fill="#cccccc" stroke="none" stroke-width="1" opacity="0.75"/>
<circle cx="420.25" cy="310.15" r="1.2" fill="#cccccc" stroke="none" stroke-width="1" opacity="0.75"/>
<circle cx="429.69" cy="289.67" r="1.2" fill="#cccccc" stroke="none" stroke-width="1" opacity="0.75"/>
<circle cx="405.69" cy="308.2" r="1.2" fill="#cccccc" stroke="none" stroke-width="1" opacity="0.75"/>
<circle cx="420.44" cy="303.77" r="1.2" fill="#cccccc" stroke="none" stroke-width="1" opacity="0.75"/>
<circle cx="417.66" cy="320.24" r="1.2" fill="#cccccc" stroke="none" stroke-width="1" opacity="0.75"/>
<circle cx="407.27" cy="310.71" r="1.2" fill="#cccccc" stroke="none" stroke-width="1" opacity="0.75"/>
<circle cx="420.09" cy="314.48" r="1.2" fill="#cccccc" stroke="none" stroke-width="1" opacity="0.75"/>
<circle cx="390.28" cy="286.34" r="1.2" fill="#cccccc" stroke="none" stroke-width="1" opacity="0.75"/>
<circle cx="415.65" cy="318.85" r="1.2" fill="#cccccc" stroke="none" stroke-width="1" opacity="0.75"/>
<circle cx="406.38" cy="299.05" r="1.2" fill="#cccccc" stroke="none" stroke-width="1" opacity="0.75"/>
<circle cx="418.99" cy="320.91" r="1.2" fill="#cccccc" stroke="none" stroke-width="1" opacity="0.75"/>
<circle cx="417.36" cy="321.84" r="1.2" fill="#cccccc" stroke="none" stroke-width="1" opacity="0.75"/>
<circle cx="408.35" cy="321.26" r="1.2" fill="#cccccc" stroke="none" stroke-width="1" opacity="0.75"/>
<circle cx="405.68" cy="318.25" r="1.2" fill="#cccccc" stroke="none" stroke-width="1" opacity="0.75"/>
<circle cx="405.65" cy="301.63" r="1.2" fill="#cccccc" stroke="none" stroke-width="1" opacity="0.75"/>
<circle cx="418.01" cy="321.96" r="1.2" fill="#cccccc" stroke="none" stroke-width="1" opacity="0.75"/>
<circle cx="417.84" cy="315.95" r="1.2" fill="#cccccc" stroke="none" stroke-width="1" opacity="0.75"/>
<circle cx="424.65" cy="281.76" r="1.2" fill="#cccccc" stroke="none" stroke-width="1" opacity="0.75"/>
<circle cx="408.37" cy="294.92" r="1.2" fill="#cccccc" stroke="none" stroke-width="1" opacity="0.75"/>
<circle cx="417.23" cy="311.66" r="1.2" fill="#cccccc" stroke="none" stroke-width="1" opacity="0.75"/>
<circle cx="407.56" cy="315.66" r="1.2" fill="#cccccc" stroke="none" stroke-width="1" opacity="0.75"/>
<circle cx="421.64" cy="301.4" r="1.2" fill="#cccccc" stroke="none" stroke-width="1" opacity="0.75"/>
<circle cx="421.29" cy="301.01" r="1.2" fill="#cccccc" stroke="none" stroke-width="1" opacity="0.75"/>
<circle cx="407.27" cy="308.6" r="1.2" fill="#cccccc" stroke="none" stroke-width="1" opacity="0.75"/>
<circle cx="417.33" cy="320.17" r="1.2" fill="#cccccc" stroke="none" stroke-width="1" opacity="0.75"/>
<circle cx="434.02" cy="283.63" r="1.2" fill="#cccccc" stroke="none" stroke-width="1" opacity="0.75"/>
<circle cx="406.8" cy="303.21" r="1.2" fill="#cccccc" stroke="none" stroke-width="1" opacity="0.75"/>
<circle cx="400.09" cy="286.28" r="1.2" fill="#cccccc" stroke="none" stroke-width="1" opacity="0.75"/>
<circle cx="430.75" cy="281.36" r="1.2" fill="#cccccc" stroke="none" stroke-width="1" opacity="0.75"/>
<circle cx="404.96" cy="296.28" r="1.2" fill="#cccccc" stroke="none" stroke-width="1" opacity="0.75"/>
<circle cx="416.83" cy="305.73" r="1.2" fill="#cccccc" stroke="none" stroke-width="1" opacity="0.75"/>
<circle cx="409.67" cy="321.98" r="1.2" fill="#cccccc" stroke="none" stroke-width="1" opacity="0.75"/>
<circle cx="418.16" cy="321.79" r="1.2" fill="#cccccc" stroke="none" stroke-width="1" opacity="0.75"/>
<circle cx="417.34" cy="319.05" r="1.2" fill="#cccccc" stroke="none" stroke-width="1" opacity="0.75"/>
<circle cx="419.35" cy="321.28" r="1.2" fill="#cccccc" stroke="none" stroke-width="1" opacity="0.75"/>
<circle cx="415.95" cy="316.4" r="1.2" fill="#cccccc" stroke="none" stroke-width="1" opacity="0.75"/>
<circle cx="404.21" cy="303.36" r="1.2" fill="#cccccc" stroke="none" stroke-width="1" opacity="0.75"/>
<circle cx="425.35" cy="289.55" r="1.2" fill="#cccccc" stroke="none" stroke-width="1" opacity="0.75"/>
<circle cx="403.75" cy="318.45" r="1.2" fill="#cccccc" stroke="none" stroke-width="1" opacity="0.75"/>
<circle cx="408.77" cy="313.8" r="1.2" fill="#cccccc" stroke="none" stroke-width="1" opacity="0.75"/>
<circle cx="407.09" cy="320.86" r="1.2" fill="#cccccc" stroke="none" stroke-width="1" opacity="0.75"/>
<circle cx="420.42" cy="317.66" r="1.2" fill="#cccccc" stroke="none" stroke-width="1" opacity="0.75"/>
<circle cx="409.45" cy="322.29" r="1.2" fill="#cccccc" stroke="none" stroke-width="1" opacity="0.75"/>
<circle cx="398.96" cy="285.53" r="1.2" fill="#cccccc" stroke="none" stroke-width="1" opacity="0.75"/>
<circle cx="419.78" cy="305.7" r="1.2" fill="#cccccc" stroke="none" stroke-width="1" opacity="0.75"/>
<circle cx="422.43" cy="289.41" r="1.2" fill="#cccccc" stroke="none" stroke-width="1" opacity="0.75"/>
<circle cx="406.3" cy="302.14" r="1.2" fill="#cccccc" stroke="none" stroke-width="1" opacity="0.75"/>
<circle cx="429.08" cy="298.04" r="1.2" fill="#cccccc" stroke="none" stroke-width="1" opacity="0.75"/>
<circle cx="407.75" cy="322.1" r="1.2" fill="#cccccc" stroke="none" stroke-width="1" opacity="0.75"/>
<circle cx="419.97" cy="303.43" r="1.2" fill="#cccccc" stroke="none" stroke-width="1" opacity="0.75"/>
<circle cx="409.5" cy="321.17" r="1.2" fill="#cccccc" stroke="none" stroke-width="1" opacity="0.75"/>
<circle cx="407.96" cy="319.61" r="1.2" fill="#cccccc" stroke="none" stroke-width="1" opacity="0.75"/>
<circle cx="402.58" cy="308.77" r="1.2" fill="#cccccc" stroke="none" stroke-width="1" opacity="0.75"/>
<circle cx="408.65" cy="321.17" r="1.2" fill="#cccccc" stroke="none" stroke-width="1" opacity="0.75"/>
<circle cx="408.56" cy="319.54" r="1.2" fill="#cccccc" stroke="none" stroke-width="1" opacity="0.75"/>
<circle cx="399.22" cy="288.11" r="1.2" fill="#cccccc" stroke="none" stroke-width="1" opacity="0.75"/>
<circle cx="404.4" cy="311.46" r="1.2" fill="#cccccc" stroke="none" stroke-width="1" opacity="0.75"/>
<circle cx="418.82" cy="311.18" r="1.2" fill="#cccccc" stroke="none" stroke-width="1" opacity="0.75"/>
<circle cx="397.63" cy="296.42" r="1.2" fill="#cccccc" stroke="none" stroke-width="1" opacity="0.75"/>
<circle cx="404.04" cy="321.05" r="1.2" fill="#cccccc" stroke="none" stroke-width="1" opacity="0.75"/>
<circle cx="406.6" cy="319.49" r="1.2" fill="#cccccc" stroke="none" stroke-width="1" opacity="0.75"/>
<circle cx="390.84" cy="282.35" r="1.2" fill="#cccccc" stroke="none" stroke-width="1" opacity="0.75"/>
<circle cx="423" cy="307.18" r="1.2" fill="#cccccc" stroke="none" stroke-width="1" opacity="0.75"/>
<circle cx="408.23" cy="322.19" r="1.2" fill="#cccccc" stroke="none" stroke-width="1" opacity="0.75"/>
<circle cx="418.11" cy="310.35" r="1.2" fill="#cccccc" stroke="none" stroke-width="1" opacity="0.75"/>
<circle cx="418.56" cy="322.27" r="1.2" fill="#cccccc" stroke="none" stroke-width="1" opacity="0.75"/>
<circle cx="409.03" cy="312.51" r="1.2" fill="#cccccc" stroke="none" stroke-width="1" opacity="0.75"/>
<circle cx="415.42" cy="321.89" r="1.2" fill="#cccccc" stroke="none" stroke-width="1" opacity="0.75"/>
<circle cx="415.98" cy="320.34" r="1.2" fill="#cccccc" stroke="none" stroke-width="1" opacity="0.75"/>
<circle cx="404.57" cy="301.97" r="1.2" fill="#cccccc" stroke="none" stroke-width="1" opacity="0.75"/>
<circle cx="406.68" cy="319.88" r="1.2" fill="#cccccc" stroke="none" stroke-width="1" opacity="0.75"/>
<circle cx="409.72" cy="319.85" r="1.2" fill="#cccccc" stroke="none" stroke-width="1" opacity="0.75"/>
<circle cx="408.78" cy="308.43" r="1.2" fill="#cccccc" stroke="none" stroke-width="1" opacity="0.75"/>
<circle cx="409.59" cy="321.18" r="1.2" fill="#cccccc" stroke="none" stroke-width="1" opacity="0.75"/>
<circle cx="420.12" cy="307.86" r="1.2" fill="#cccccc" stroke="none" stroke-width="1" opacity="0.75"/>
<circle cx="405.86" cy="301.54" r="1.2" fill="#cccccc" stroke="none" stroke-width="1" opacity="0.75"/>
<circle cx="410.1" cy="322.13" r="1.2" fill="#cccccc" stroke="none" stroke-width="1" opacity="0.75"/>
<circle cx="404.45" cy="297.2" r="1.2" fill="#cccccc" stroke="none" stroke-width="1" opacity="0.75"/>
<circle cx="405.73" cy="307.11" r="1.2" fill="#cccccc" stroke="none" stroke-width="1" opacity="0.75"/>
<circle cx="417.82" cy="318.69" r="1.2" fill="#cccccc" stroke="none" stroke-width="1" opacity="0.75"/>
<circle cx="426.93" cy="298.92" r="1.2" fill="#cccccc" stroke="none" stroke-width="1" opacity="0.75"/>
<circle cx="418.59" cy="321.29" r="1.2" fill="#cccccc" stroke="none" stroke-width="1" opacity="0.75"/>
<circle cx="416.08" cy="320.1" r="1.2" fill="#cccccc" stroke="none" stroke-width="1" opacity="0.75"/>
<circle cx="408.49" cy="297.53" r="1.2" fill="#cccccc" stroke="none" stroke-width="1" opacity="0.75"/>
<circle cx="416.65" cy="318.66" r="1.2" fill="#cccccc" stroke="none" stroke-width="1" opacity="0.75"/>
<circle cx="396.07" cy="283.8" r="1.2" fill="#cccccc" stroke="none" stroke-width="1" opacity="0.75"/>
<circle cx="407.15" cy="321.75" r="1.2" fill="#cccccc" stroke="none" stroke-width="1" opacity="0.75"/>
<circle cx="400.92" cy="300.21" r="1.2" fill="#cccccc" stroke="none" stroke-width="1" opacity="0.75"/>
<circle cx="417.58" cy="322.3" r="1.2" fill="#cccccc" stroke="none" stroke-width="1" opacity="0.75"/>
<circle cx="417.16" cy="316.53" r="1.2" fill="#cccccc" stroke="none" stroke-width="1" opacity="0.75"/>
<circle cx="404.62" cy="313.83" r="1.2" fill="#cccccc" stroke="none" stroke-width="1" opacity="0.75"/>
<circle cx="404.62" cy="301.91" r="1.2" fill="#cccccc" stroke="none" stroke-width="1" opacity="0.75"/>
<circle cx="409.01" cy="319.13" r="1.2" fill="#cccccc" stroke="none" stroke-width="1" opacity="0.75"/>
<circle cx="407.45" cy="314.22" r="1.2" fill="#cccccc" stroke="none" stroke-width="1" opacity="0.75"/>
<circle cx="421.01" cy="317.39" r="1.2" fill="#cccccc" stroke="none" stroke-width="1" opacity="0.75"/>
<circle cx="409.28" cy="320.62" r="1.2" fill="#cccccc" stroke="none" stroke-width="1" opacity="0.75"/>
<circle cx="407.59" cy="316.22" r="1.2" fill="#cccccc" stroke="none" stroke-width="1" opacity="0.75"/>
<circle cx="403.81" cy="288.51" r="1.2" fill="#cccccc" stroke="none" stroke-width="1" opacity="0.75"/>
<circle cx="419.16" cy="314.18" r="1.2" fill="#cccccc" stroke="none" stroke-width="1" opacity="0.75"/>
<circle cx="407.98" cy="316.96" r="1.2" fill="#cccccc" stroke="none" stroke-width="1" opacity="0.75"/>
<circle cx="417.17" cy="320.67" r="1.2" fill="#cccccc" stroke="none" stroke-width="1" opacity="0.75"/>
<circle cx="428.39" cy="296.36" r="1.2" fill="#cccccc" stroke="none" stroke-width="1" opacity="0.75"/>
<circle cx="410.36" cy="320.85" r="1.2" fill="#cccccc" stroke="none" stroke-width="1" opacity="0.75"/>
<circle cx="416.71" cy="313.81" r="1.2" fill="#cccccc" stroke="none" stroke-width="1" opacity="0.75"/>
<circle cx="395.5" cy="281.87" r="1.2" fill="#cccccc" stroke="none" stroke-width="1" opacity="0.75"/>
<circle cx="408.35" cy="316.84" r="1.2" fill="#cccccc" stroke="none" stroke-width="1" opacity="0.75"/>
<circle cx="416.07" cy="322.23" r="1.2" fill="#cccccc" stroke="none" stroke-width="1" opacity="0.75"/>
<circle cx="407.33" cy="322.29" r="1.2" fill="#cccccc" stroke="none" stroke-width="1" opacity="0.75"/>
<circle cx="419.33" cy="300.41" r="1.2" fill="#cccccc" stroke="none" stroke-width="1" opacity="0.75"/>
<circle cx="409.04" cy="320.63" r="1.2" fill="#cccccc" stroke="none" stroke-width="1" opacity="0.75"/>
<circle cx="408.01" cy="317.47" r="1.2" fill="#cccccc" stroke="none" stroke-width="1" opacity="0.75"/>
<circle cx="410.97" cy="321.67" r="1.2" fill="#cccccc" stroke="none" stroke-width="1" opacity="0.75"/>
<circle cx="393.96" cy="285.21" r="1.2" fill="#cccccc" stroke="none" stroke-width="1" opacity="0.75"/>
<circle cx="386.22" cy="280.24" r="1.2" fill="#cccccc" stroke="none" stroke-width="1" opacity="0.75"/>
<circle cx="390.23" cy="278.21" r="1.2" fill="#cccccc" stroke="none" stroke-width="1" opacity="0.75"/>
<circle cx="395.71" cy="280.26" r="1.2" fill="#cccccc" stroke="none" stroke-width="1" opacity="0.75"/>
<circle cx="394.48" cy="281.91" r="1.2" fill="#cccccc" stroke="none" stroke-width="1" opacity="0.75"/>
<circle cx="386.6" cy="280.85" r="1.2" fill="#cccccc" stroke="none" stroke-width="1" opacity="0.75"/>
<circle cx="388.62" cy="277.85" r="1.2" fill="#cccccc" stroke="none" stroke-width="1" opacity="0.75"/>
<circle cx="387.66" cy="282.56" r="1.2" fill="#cccccc" stroke="none" stroke-width="1" opacity="0.75"/>
<circle cx="430" cy="281" r="1.3" fill="#c8c8c8" stroke="none" stroke-width="1" opacity="1"/>
<circle cx="445" cy="283.5" r="1.3" fill="#c0cfdc" stroke="none" stroke-width="1" opacity="1"/>
<line x1="307" y1="276.3" x2="519.5" y2="276.3" stroke="#2a2a2a" stroke-width="1.0" stroke-dasharray="4,4" stroke-dashoffset="-0.5"/>
<line x1="369.8" y1="249.9" x2="382.4" y2="262" stroke="#4a4f66" stroke-width="0.8" />
<line x1="496.5" y1="197.7" x2="501.5" y2="206.9" stroke="#4a4f66" stroke-width="0.8" />
<line x1="471" y1="216.4" x2="486.5" y2="216.4" stroke="#4a4f66" stroke-width="0.8" />
<line x1="496.5" y1="217.3" x2="499.2" y2="230.5" stroke="#4a4f66" stroke-width="0.8" />
<line x1="430" y1="243.8" x2="457.7" y2="262.3" stroke="#4a4f66" stroke-width="0.8" />
<line x1="463.5" y1="249.6" x2="469.7" y2="263.5" stroke="#4a4f66" stroke-width="0.8" />
<line x1="424.2" y1="263.2" x2="443.8" y2="263.2" stroke="#4a4f66" stroke-width="0.8" />
<line x1="491.8" y1="269.2" x2="479.6" y2="263.5" stroke="#4a4f66" stroke-width="0.8" />
<line x1="462.5" y1="266" x2="487.7" y2="291.1" stroke="#4a4f66" stroke-width="0.8" />
<circle cx="501.7" cy="207.4" r="1.6" fill="#ecd6bc" stroke="none" stroke-width="1" opacity="1"/>
<circle cx="487.2" cy="216.4" r="1.6" fill="#ecd6bc" stroke="none" stroke-width="1" opacity="1"/>
<circle cx="496.5" cy="216.4" r="1.6" fill="#ecd6bc" stroke="none" stroke-width="1" opacity="1"/>
<circle cx="445" cy="263" r="1.6" fill="#ecd6bc" stroke="none" stroke-width="1" opacity="1"/>
<circle cx="457.7" cy="262.8" r="1.6" fill="#ecd6bc" stroke="none" stroke-width="1" opacity="1"/>
<circle cx="460.5" cy="266.5" r="1.6" fill="#ecd6bc" stroke="none" stroke-width="1" opacity="1"/>
<circle cx="462.8" cy="265" r="1.6" fill="#ecd6bc" stroke="none" stroke-width="1" opacity="1"/>
<circle cx="470.4" cy="264.2" r="1.6" fill="#ecd6bc" stroke="none" stroke-width="1" opacity="1"/>
<circle cx="478.5" cy="262.8" r="1.6" fill="#ecd6bc" stroke="none" stroke-width="1" opacity="1"/>
<circle cx="382.9" cy="262.5" r="1.3" fill="#a8cfee" stroke="none" stroke-width="1" opacity="1"/>
<rect x="353.6" y="244.6" width="16.2" height="7.8" fill="#2a9ee0" stroke="#124a78" stroke-width="0.9" rx="2.6" />
<text x="361.7" y="250.2" font-size="4.8" text-anchor="middle" fill="#0b3a66" textLength="12.96" lengthAdjust="spacingAndGlyphs">ABL2</text>
<rect x="482.9" y="189.4" width="25.8" height="8.4" fill="#ef8e12" stroke="#6a4306" stroke-width="0.9" rx="2.6" />
<text x="495.8" y="195.3" font-size="4.8" text-anchor="middle" fill="#3a2000" textLength="20.64" lengthAdjust="spacingAndGlyphs">HLA-DPA1</text>
<rect x="452.6" y="212.2" width="18.5" height="8.6" fill="#ef8e12" stroke="#6a4306" stroke-width="0.9" rx="2.6" />
<text x="461.85" y="218.2" font-size="4.8" text-anchor="middle" fill="#3a2000" textLength="14.8" lengthAdjust="spacingAndGlyphs">DNPH1</text>
<rect x="487.7" y="230.5" width="24.2" height="8.3" fill="#ef8e12" stroke="#6a4306" stroke-width="0.9" rx="2.6" />
<text x="499.8" y="236.35" font-size="4.8" text-anchor="middle" fill="#3a2000" textLength="19.36" lengthAdjust="spacingAndGlyphs">ATP6V0C2</text>
<rect x="420.3" y="235.3" width="16.2" height="8.5" fill="#ef8e12" stroke="#6a4306" stroke-width="0.9" rx="2.6" />
<text x="428.4" y="241.25" font-size="4.8" text-anchor="middle" fill="#3a2000" textLength="12.96" lengthAdjust="spacingAndGlyphs">CD81</text>
<rect x="454.9" y="240.6" width="16.2" height="9" fill="#ef8e12" stroke="#6a4306" stroke-width="0.9" rx="2.6" />
<text x="463" y="246.8" font-size="4.8" text-anchor="middle" fill="#3a2000" textLength="12.96" lengthAdjust="spacingAndGlyphs">GNLY</text>
<rect x="405.6" y="258.7" width="18.9" height="8.6" fill="#ef8e12" stroke="#6a4306" stroke-width="0.9" rx="2.6" />
<text x="415.05" y="264.7" font-size="4.8" text-anchor="middle" fill="#3a2000" textLength="15.12" lengthAdjust="spacingAndGlyphs">RGS13</text>
<rect x="491.8" y="266.5" width="15.6" height="8.3" fill="#ef8e12" stroke="#6a4306" stroke-width="0.9" rx="2.6" />
<text x="499.6" y="272.35" font-size="4.8" text-anchor="middle" fill="#3a2000" textLength="12.48" lengthAdjust="spacingAndGlyphs">CD40</text>
<rect x="443.4" y="272" width="23.3" height="8.5" fill="#ef8e12" stroke="#6a4306" stroke-width="0.9" rx="2.6" />
<text x="455.05" y="277.95" font-size="4.8" text-anchor="middle" fill="#3a2000" textLength="18.64" lengthAdjust="spacingAndGlyphs">HLA-DRA</text>
<rect x="481.9" y="291.1" width="18" height="8.5" fill="#ef8e12" stroke="#6a4306" stroke-width="0.9" rx="2.6" />
<text x="490.9" y="297.05" font-size="4.8" text-anchor="middle" fill="#3a2000" textLength="14.4" lengthAdjust="spacingAndGlyphs">GZMK</text>
<line x1="307" y1="181.3" x2="519.5" y2="181.3" stroke="#222" stroke-width="1.3" />
<line x1="519.4" y1="181.3" x2="519.4" y2="323.75" stroke="#222" stroke-width="1.2" />
<line x1="307" y1="181" x2="307" y2="324.3" stroke="#222" stroke-width="1.3" />
<line x1="306.5" y1="323.75" x2="519.5" y2="323.75" stroke="#222" stroke-width="1.3" />
<line x1="320.9" y1="323.75" x2="320.9" y2="326.5" stroke="#222" stroke-width="0.9" />
<text x="320.9" y="337.8" font-size="8.2" text-anchor="middle" fill="#2b2b2b" stroke="#2b2b2b" stroke-width="0.22">−2</text>
<line x1="367.2" y1="323.75" x2="367.2" y2="326.5" stroke="#222" stroke-width="0.9" />
<text x="367.2" y="337.8" font-size="8.2" text-anchor="middle" fill="#2b2b2b" stroke="#2b2b2b" stroke-width="0.22">−1</text>
<line x1="413.5" y1="323.75" x2="413.5" y2="326.5" stroke="#222" stroke-width="0.9" />
<text x="413.5" y="337.8" font-size="8.2" text-anchor="middle" fill="#2b2b2b" stroke="#2b2b2b" stroke-width="0.22">0</text>
<line x1="459.8" y1="323.75" x2="459.8" y2="326.5" stroke="#222" stroke-width="0.9" />
<text x="459.8" y="337.8" font-size="8.2" text-anchor="middle" fill="#2b2b2b" stroke="#2b2b2b" stroke-width="0.22">1</text>
<line x1="506.1" y1="323.75" x2="506.1" y2="326.5" stroke="#222" stroke-width="0.9" />
<text x="506.1" y="337.8" font-size="8.2" text-anchor="middle" fill="#2b2b2b" stroke="#2b2b2b" stroke-width="0.22">2</text>
<line x1="304.3" y1="323.75" x2="307" y2="323.75" stroke="#222" stroke-width="0.9" />
<text x="301" y="326.65" font-size="8.2" text-anchor="end" fill="#2b2b2b" stroke="#2b2b2b" stroke-width="0.22">0</text>
<line x1="304.3" y1="276.25" x2="307" y2="276.25" stroke="#222" stroke-width="0.9" />
<text x="301" y="279.15" font-size="8.2" text-anchor="end" fill="#2b2b2b" stroke="#2b2b2b" stroke-width="0.22">1</text>
<line x1="304.3" y1="228.75" x2="307" y2="228.75" stroke="#222" stroke-width="0.9" />
<text x="301" y="231.65" font-size="8.2" text-anchor="end" fill="#2b2b2b" stroke="#2b2b2b" stroke-width="0.22">2</text>
<line x1="304.3" y1="181.25" x2="307" y2="181.25" stroke="#222" stroke-width="0.9" />
<text x="301" y="184.15" font-size="8.2" text-anchor="end" fill="#2b2b2b" stroke="#2b2b2b" stroke-width="0.22">3</text>
<text class="cd" x="413.5" y="351.3" font-size="9" text-anchor="middle" fill="#333333" textLength="49.6" lengthAdjust="spacingAndGlyphs">log<tspan font-size="6.8" dy="2">2</tspan><tspan dy="-2"> fold-change</tspan></text>
<text class="cd" x="290.6" y="252.4" font-size="9" text-anchor="middle" fill="#333333" transform="rotate(-90 290.6 252.4)" textLength="33.6" lengthAdjust="spacingAndGlyphs">−log<tspan font-size="6.6" dy="2">10</tspan><tspan dy="-2"> FDR</tspan></text>
<text x="0.6" y="375" font-size="11" text-anchor="start" fill="#000" font-weight="bold">E</text>
<rect x="64" y="419.06" width="13.5" height="7.84" fill="#bcd9f3" stroke="none" stroke-width="1" rx="0" />
<rect x="84.2" y="405.28" width="13.5" height="21.62" fill="#fcd4a3" stroke="none" stroke-width="1" rx="0" />
<line x1="59.3" y1="426.9" x2="102.5" y2="426.9" stroke="#4a4a4a" stroke-width="1" stroke-dasharray="3,2.2" />
<line x1="70.4" y1="384.4" x2="89" y2="384.4" stroke="#3a3a3a" stroke-width="1.1" />
<text x="79.7" y="384.9" font-size="8.5" text-anchor="middle" fill="#1a1a1a" stroke="#1a1a1a" stroke-width="0.22">**</text>
<circle cx="69.7" cy="405.7" r="1.45" fill="#b0d6f0" stroke="#0f2c42" stroke-width="1.25" opacity="1"/>
<circle cx="71.3" cy="409.6" r="1.45" fill="#b0d6f0" stroke="#0f2c42" stroke-width="1.25" opacity="1"/>
<circle cx="72.8" cy="411.6" r="1.45" fill="#b0d6f0" stroke="#0f2c42" stroke-width="1.25" opacity="1"/>
<circle cx="73.4" cy="421.1" r="1.45" fill="#b0d6f0" stroke="#0f2c42" stroke-width="1.25" opacity="1"/>
<circle cx="72.6" cy="425.1" r="1.45" fill="#b0d6f0" stroke="#0f2c42" stroke-width="1.25" opacity="1"/>
<circle cx="72.9" cy="433.4" r="1.45" fill="#b0d6f0" stroke="#0f2c42" stroke-width="1.25" opacity="1"/>
<circle cx="91.9" cy="387.7" r="1.45" fill="#f8c684" stroke="#2e1a00" stroke-width="1.25" opacity="1"/>
<circle cx="91" cy="390.8" r="1.45" fill="#f8c684" stroke="#2e1a00" stroke-width="1.25" opacity="1"/>
<circle cx="87.1" cy="406.5" r="1.45" fill="#f8c684" stroke="#2e1a00" stroke-width="1.25" opacity="1"/>
<circle cx="91" cy="406.9" r="1.45" fill="#f8c684" stroke="#2e1a00" stroke-width="1.25" opacity="1"/>
<circle cx="87.7" cy="416.2" r="1.45" fill="#f8c684" stroke="#2e1a00" stroke-width="1.25" opacity="1"/>
<circle cx="87.7" cy="422.3" r="1.45" fill="#f8c684" stroke="#2e1a00" stroke-width="1.25" opacity="1"/>
<line x1="58.8" y1="381.5" x2="58.8" y2="438" stroke="#222" stroke-width="1.1" />
<line x1="58.3" y1="437.5" x2="102.5" y2="437.5" stroke="#222" stroke-width="1.1" />
<line x1="56.2" y1="384.5" x2="58.8" y2="384.5" stroke="#222" stroke-width="0.9" />
<text x="52.9" y="387.4" font-size="8.2" text-anchor="end" fill="#2b2b2b" stroke="#2b2b2b" stroke-width="0.22">2.00</text>
<line x1="56.2" y1="395.1" x2="58.8" y2="395.1" stroke="#222" stroke-width="0.9" />
<text x="52.9" y="398" font-size="8.2" text-anchor="end" fill="#2b2b2b" stroke="#2b2b2b" stroke-width="0.22">1.50</text>
<line x1="56.2" y1="405.7" x2="58.8" y2="405.7" stroke="#222" stroke-width="0.9" />
<text x="52.9" y="408.6" font-size="8.2" text-anchor="end" fill="#2b2b2b" stroke="#2b2b2b" stroke-width="0.22">1.00</text>
<line x1="56.2" y1="416.3" x2="58.8" y2="416.3" stroke="#222" stroke-width="0.9" />
<text x="52.9" y="419.2" font-size="8.2" text-anchor="end" fill="#2b2b2b" stroke="#2b2b2b" stroke-width="0.22">0.50</text>
<line x1="56.2" y1="426.9" x2="58.8" y2="426.9" stroke="#222" stroke-width="0.9" />
<text x="52.9" y="429.8" font-size="8.2" text-anchor="end" fill="#2b2b2b" stroke="#2b2b2b" stroke-width="0.22">0.00</text>
<line x1="56.2" y1="437.5" x2="58.8" y2="437.5" stroke="#222" stroke-width="0.9" />
<text x="52.9" y="440.4" font-size="8.2" text-anchor="end" fill="#2b2b2b" stroke="#2b2b2b" stroke-width="0.22">−0.50</text>
<line x1="70.7" y1="437.5" x2="70.7" y2="440.3" stroke="#222" stroke-width="0.9" />
<line x1="90.9" y1="437.5" x2="90.9" y2="440.3" stroke="#222" stroke-width="0.9" />
<text x="73.5" y="448" font-size="8.5" text-anchor="end" fill="#2b2b2b" stroke="#2b2b2b" stroke-width="0.1" transform="rotate(-45 73.5 448)">FMC63</text>
<text x="93.7" y="448" font-size="8.5" text-anchor="end" fill="#2b2b2b" stroke="#2b2b2b" stroke-width="0.1" transform="rotate(-45 93.7 448)">CAT</text>
<text class="cd2" x="25.8" y="409.5" font-size="9.6" text-anchor="middle" fill="#333333" transform="rotate(-90 25.8 409.5)" textLength="52" lengthAdjust="spacingAndGlyphs">EMD granzyme B</text>
<line x1="71.2" y1="415.6" x2="71.2" y2="426.9" stroke="#333" stroke-width="0.9" />
<line x1="90.6" y1="400.2" x2="90.6" y2="410" stroke="#333" stroke-width="0.9" />
<rect x="157.7" y="406.19" width="13.5" height="4.61" fill="#bcd9f3" stroke="none" stroke-width="1" rx="0" />
<rect x="177.7" y="404.18" width="13.5" height="6.62" fill="#fcd4a3" stroke="none" stroke-width="1" rx="0" />
<line x1="152.4" y1="410.8" x2="195.6" y2="410.8" stroke="#4a4a4a" stroke-width="1" stroke-dasharray="3,2.2" />
<line x1="165.4" y1="393.5" x2="185" y2="393.5" stroke="#3a3a3a" stroke-width="1.1" />
<text x="175.2" y="393.9" font-size="8.5" text-anchor="middle" fill="#1a1a1a" stroke="#1a1a1a" stroke-width="0.22">*</text>
<circle cx="163.5" cy="396.9" r="1.45" fill="#b0d6f0" stroke="#0f2c42" stroke-width="1.25" opacity="1"/>
<circle cx="166.9" cy="404.6" r="1.45" fill="#b0d6f0" stroke="#0f2c42" stroke-width="1.25" opacity="1"/>
<circle cx="165.6" cy="406" r="1.45" fill="#b0d6f0" stroke="#0f2c42" stroke-width="1.25" opacity="1"/>
<circle cx="164.6" cy="408.1" r="1.45" fill="#b0d6f0" stroke="#0f2c42" stroke-width="1.25" opacity="1"/>
<circle cx="163.5" cy="409.2" r="1.45" fill="#b0d6f0" stroke="#0f2c42" stroke-width="1.25" opacity="1"/>
<circle cx="184.2" cy="399.2" r="1.45" fill="#f8c684" stroke="#2e1a00" stroke-width="1.25" opacity="1"/>
<circle cx="184.6" cy="401.5" r="1.45" fill="#f8c684" stroke="#2e1a00" stroke-width="1.25" opacity="1"/>
<circle cx="180.4" cy="402.3" r="1.45" fill="#f8c684" stroke="#2e1a00" stroke-width="1.25" opacity="1"/>
<circle cx="181.5" cy="404.6" r="1.45" fill="#f8c684" stroke="#2e1a00" stroke-width="1.25" opacity="1"/>
<circle cx="185.4" cy="403.8" r="1.45" fill="#f8c684" stroke="#2e1a00" stroke-width="1.25" opacity="1"/>
<circle cx="181.2" cy="407.3" r="1.45" fill="#f8c684" stroke="#2e1a00" stroke-width="1.25" opacity="1"/>
<circle cx="184.6" cy="407.3" r="1.45" fill="#f8c684" stroke="#2e1a00" stroke-width="1.25" opacity="1"/>
<line x1="151.9" y1="382.5" x2="151.9" y2="437.8" stroke="#222" stroke-width="1.1" />
<line x1="151.4" y1="437.3" x2="195.6" y2="437.3" stroke="#222" stroke-width="1.1" />
<line x1="149.3" y1="384.3" x2="151.9" y2="384.3" stroke="#222" stroke-width="0.9" />
<text x="146" y="387.2" font-size="8.2" text-anchor="end" fill="#2b2b2b" stroke="#2b2b2b" stroke-width="0.22">0.50</text>
<line x1="149.3" y1="397.55" x2="151.9" y2="397.55" stroke="#222" stroke-width="0.9" />
<text x="146" y="400.45" font-size="8.2" text-anchor="end" fill="#2b2b2b" stroke="#2b2b2b" stroke-width="0.22">0.25</text>
<line x1="149.3" y1="410.8" x2="151.9" y2="410.8" stroke="#222" stroke-width="0.9" />
<text x="146" y="413.7" font-size="8.2" text-anchor="end" fill="#2b2b2b" stroke="#2b2b2b" stroke-width="0.22">0.00</text>
<line x1="149.3" y1="424.05" x2="151.9" y2="424.05" stroke="#222" stroke-width="0.9" />
<text x="146" y="426.95" font-size="8.2" text-anchor="end" fill="#2b2b2b" stroke="#2b2b2b" stroke-width="0.22">−0.25</text>
<line x1="149.3" y1="437.3" x2="151.9" y2="437.3" stroke="#222" stroke-width="0.9" />
<text x="146" y="440.2" font-size="8.2" text-anchor="end" fill="#2b2b2b" stroke="#2b2b2b" stroke-width="0.22">−0.50</text>
<line x1="164.2" y1="437.3" x2="164.2" y2="440.1" stroke="#222" stroke-width="0.9" />
<line x1="184.4" y1="437.3" x2="184.4" y2="440.1" stroke="#222" stroke-width="0.9" />
<text x="167" y="447.8" font-size="8.5" text-anchor="end" fill="#2b2b2b" stroke="#2b2b2b" stroke-width="0.1" transform="rotate(-45 167 447.8)">FMC63</text>
<text x="187.2" y="447.8" font-size="8.5" text-anchor="end" fill="#2b2b2b" stroke="#2b2b2b" stroke-width="0.1" transform="rotate(-45 187.2 447.8)">CAT</text>
<text class="cd2" x="119.4" y="409" font-size="9.6" text-anchor="middle" fill="#333333" transform="rotate(-90 119.4 409)" textLength="49.1" lengthAdjust="spacingAndGlyphs">EMD perforin B</text>
<rect x="64.6" y="514.67" width="14.8" height="13.83" fill="#bcd9f3" stroke="none" stroke-width="1" rx="0" />
<rect x="86.2" y="505.85" width="14.4" height="22.65" fill="#fcd4a3" stroke="none" stroke-width="1" rx="0" />
<line x1="59.3" y1="528.5" x2="105.8" y2="528.5" stroke="#4a4a4a" stroke-width="1" stroke-dasharray="3,2.2" />
<line x1="72.3" y1="488.1" x2="93.8" y2="488.1" stroke="#3a3a3a" stroke-width="1.1" />
<text x="83.05" y="488.7" font-size="8.5" text-anchor="middle" fill="#1a1a1a" stroke="#1a1a1a" stroke-width="0.22">**</text>
<circle cx="70.8" cy="507.3" r="1.45" fill="#b0d6f0" stroke="#0f2c42" stroke-width="1.25" opacity="1"/>
<circle cx="75.5" cy="508.5" r="1.45" fill="#b0d6f0" stroke="#0f2c42" stroke-width="1.25" opacity="1"/>
<circle cx="71.6" cy="513.8" r="1.45" fill="#b0d6f0" stroke="#0f2c42" stroke-width="1.25" opacity="1"/>
<circle cx="73.9" cy="513.8" r="1.45" fill="#b0d6f0" stroke="#0f2c42" stroke-width="1.25" opacity="1"/>
<circle cx="72.4" cy="515.2" r="1.45" fill="#b0d6f0" stroke="#0f2c42" stroke-width="1.25" opacity="1"/>
<circle cx="74.3" cy="520.8" r="1.45" fill="#b0d6f0" stroke="#0f2c42" stroke-width="1.25" opacity="1"/>
<circle cx="73.2" cy="523.8" r="1.45" fill="#b0d6f0" stroke="#0f2c42" stroke-width="1.25" opacity="1"/>
<circle cx="94.7" cy="490.8" r="1.45" fill="#f8c684" stroke="#2e1a00" stroke-width="1.25" opacity="1"/>
<circle cx="93.5" cy="501.5" r="1.45" fill="#f8c684" stroke="#2e1a00" stroke-width="1.25" opacity="1"/>
<circle cx="90.5" cy="503.5" r="1.45" fill="#f8c684" stroke="#2e1a00" stroke-width="1.25" opacity="1"/>
<circle cx="94.7" cy="506.9" r="1.45" fill="#f8c684" stroke="#2e1a00" stroke-width="1.25" opacity="1"/>
<circle cx="90.1" cy="508.4" r="1.45" fill="#f8c684" stroke="#2e1a00" stroke-width="1.25" opacity="1"/>
<circle cx="93.5" cy="518.8" r="1.45" fill="#f8c684" stroke="#2e1a00" stroke-width="1.25" opacity="1"/>
<line x1="58.8" y1="480.4" x2="58.8" y2="536.7" stroke="#222" stroke-width="1.1" />
<line x1="58.3" y1="536.2" x2="105.8" y2="536.2" stroke="#222" stroke-width="1.1" />
<line x1="56.2" y1="482.9" x2="58.8" y2="482.9" stroke="#222" stroke-width="0.9" />
<text x="52.9" y="485.8" font-size="8.2" text-anchor="end" fill="#2b2b2b" stroke="#2b2b2b" stroke-width="0.22">3.00</text>
<line x1="56.2" y1="498.1" x2="58.8" y2="498.1" stroke="#222" stroke-width="0.9" />
<text x="52.9" y="501" font-size="8.2" text-anchor="end" fill="#2b2b2b" stroke="#2b2b2b" stroke-width="0.22">2.00</text>
<line x1="56.2" y1="513.3" x2="58.8" y2="513.3" stroke="#222" stroke-width="0.9" />
<text x="52.9" y="516.2" font-size="8.2" text-anchor="end" fill="#2b2b2b" stroke="#2b2b2b" stroke-width="0.22">1.00</text>
<line x1="56.2" y1="528.5" x2="58.8" y2="528.5" stroke="#222" stroke-width="0.9" />
<text x="52.9" y="531.4" font-size="8.2" text-anchor="end" fill="#2b2b2b" stroke="#2b2b2b" stroke-width="0.22">0.00</text>
<line x1="72" y1="536.2" x2="72" y2="539" stroke="#222" stroke-width="0.9" />
<line x1="93.4" y1="536.2" x2="93.4" y2="539" stroke="#222" stroke-width="0.9" />
<text x="74.8" y="546.7" font-size="8.5" text-anchor="end" fill="#2b2b2b" stroke="#2b2b2b" stroke-width="0.1" transform="rotate(-45 74.8 546.7)">FMC63</text>
<text x="96.2" y="546.7" font-size="8.5" text-anchor="end" fill="#2b2b2b" stroke="#2b2b2b" stroke-width="0.1" transform="rotate(-45 96.2 546.7)">CAT</text>
<text class="cd2" x="30.2" y="507.7" font-size="9.6" text-anchor="middle" fill="#333333" transform="rotate(-90 30.2 507.7)" textLength="42" lengthAdjust="spacingAndGlyphs">EMD HLA-DR</text>
<rect x="158.1" y="504.48" width="15" height="24.02" fill="#bcd9f3" stroke="none" stroke-width="1" rx="0" />
<rect x="179.6" y="495.06" width="15" height="33.44" fill="#fcd4a3" stroke="none" stroke-width="1" rx="0" />
<line x1="152.8" y1="528.5" x2="200" y2="528.5" stroke="#4a4a4a" stroke-width="1" stroke-dasharray="3,2.2" />
<line x1="166.2" y1="481.3" x2="186.9" y2="481.3" stroke="#3a3a3a" stroke-width="1.1" />
<text x="176.55" y="481.9" font-size="8.5" text-anchor="middle" fill="#1a1a1a" stroke="#1a1a1a" stroke-width="0.22">**</text>
<circle cx="164.8" cy="498.7" r="1.45" fill="#b0d6f0" stroke="#0f2c42" stroke-width="1.25" opacity="1"/>
<circle cx="167.3" cy="500.6" r="1.45" fill="#b0d6f0" stroke="#0f2c42" stroke-width="1.25" opacity="1"/>
<circle cx="168.3" cy="502.4" r="1.45" fill="#b0d6f0" stroke="#0f2c42" stroke-width="1.25" opacity="1"/>
<circle cx="166.2" cy="504.4" r="1.45" fill="#b0d6f0" stroke="#0f2c42" stroke-width="1.25" opacity="1"/>
<circle cx="166.7" cy="510.2" r="1.45" fill="#b0d6f0" stroke="#0f2c42" stroke-width="1.25" opacity="1"/>
<circle cx="167.7" cy="513.1" r="1.45" fill="#b0d6f0" stroke="#0f2c42" stroke-width="1.25" opacity="1"/>
<circle cx="187.9" cy="484.2" r="1.45" fill="#f8c684" stroke="#2e1a00" stroke-width="1.25" opacity="1"/>
<circle cx="186.9" cy="487.7" r="1.45" fill="#f8c684" stroke="#2e1a00" stroke-width="1.25" opacity="1"/>
<circle cx="184" cy="491" r="1.45" fill="#f8c684" stroke="#2e1a00" stroke-width="1.25" opacity="1"/>
<circle cx="186" cy="494.8" r="1.45" fill="#f8c684" stroke="#2e1a00" stroke-width="1.25" opacity="1"/>
<circle cx="188.8" cy="499.2" r="1.45" fill="#f8c684" stroke="#2e1a00" stroke-width="1.25" opacity="1"/>
<circle cx="186.8" cy="498.5" r="1.45" fill="#f8c684" stroke="#2e1a00" stroke-width="1.25" opacity="1"/>
<circle cx="183.1" cy="507.3" r="1.45" fill="#f8c684" stroke="#2e1a00" stroke-width="1.25" opacity="1"/>
<line x1="152.3" y1="480.4" x2="152.3" y2="536.7" stroke="#222" stroke-width="1.1" />
<line x1="151.8" y1="536.2" x2="200" y2="536.2" stroke="#222" stroke-width="1.1" />
<line x1="149.7" y1="482.9" x2="152.3" y2="482.9" stroke="#222" stroke-width="0.9" />
<text x="146.4" y="485.8" font-size="8.2" text-anchor="end" fill="#2b2b2b" stroke="#2b2b2b" stroke-width="0.22">3.00</text>
<line x1="149.7" y1="498.1" x2="152.3" y2="498.1" stroke="#222" stroke-width="0.9" />
<text x="146.4" y="501" font-size="8.2" text-anchor="end" fill="#2b2b2b" stroke="#2b2b2b" stroke-width="0.22">2.00</text>
<line x1="149.7" y1="513.3" x2="152.3" y2="513.3" stroke="#222" stroke-width="0.9" />
<text x="146.4" y="516.2" font-size="8.2" text-anchor="end" fill="#2b2b2b" stroke="#2b2b2b" stroke-width="0.22">1.00</text>
<line x1="149.7" y1="528.5" x2="152.3" y2="528.5" stroke="#222" stroke-width="0.9" />
<text x="146.4" y="531.4" font-size="8.2" text-anchor="end" fill="#2b2b2b" stroke="#2b2b2b" stroke-width="0.22">0.00</text>
<line x1="165.6" y1="536.2" x2="165.6" y2="539" stroke="#222" stroke-width="0.9" />
<line x1="187.1" y1="536.2" x2="187.1" y2="539" stroke="#222" stroke-width="0.9" />
<text x="168.4" y="546.7" font-size="8.5" text-anchor="end" fill="#2b2b2b" stroke="#2b2b2b" stroke-width="0.1" transform="rotate(-45 168.4 546.7)">FMC63</text>
<text x="189.9" y="546.7" font-size="8.5" text-anchor="end" fill="#2b2b2b" stroke="#2b2b2b" stroke-width="0.1" transform="rotate(-45 189.9 546.7)">CAT</text>
<text class="cd2" x="124.2" y="508" font-size="9.6" text-anchor="middle" fill="#333333" transform="rotate(-90 124.2 508)" textLength="32.1" lengthAdjust="spacingAndGlyphs">EMD CD25</text>
<rect x="255.8" y="520.75" width="13.8" height="4.45" fill="#bcd9f3" stroke="none" stroke-width="1" rx="0" />
<rect x="276" y="514.6" width="14" height="10.6" fill="#fcd4a3" stroke="none" stroke-width="1" rx="0" />
<line x1="251.5" y1="525.2" x2="294.2" y2="525.2" stroke="#4a4a4a" stroke-width="1" stroke-dasharray="3,2.2" />
<line x1="262.5" y1="497.3" x2="282.7" y2="497.3" stroke="#3a3a3a" stroke-width="1.1" />
<text x="272.6" y="497.7" font-size="8.5" text-anchor="middle" fill="#1a1a1a" stroke="#1a1a1a" stroke-width="0.22">*</text>
<circle cx="265" cy="500.2" r="1.45" fill="#b0d6f0" stroke="#0f2c42" stroke-width="1.25" opacity="1"/>
<circle cx="261.5" cy="514" r="1.45" fill="#b0d6f0" stroke="#0f2c42" stroke-width="1.25" opacity="1"/>
<circle cx="265" cy="519.8" r="1.45" fill="#b0d6f0" stroke="#0f2c42" stroke-width="1.25" opacity="1"/>
<circle cx="263.5" cy="523.2" r="1.45" fill="#b0d6f0" stroke="#0f2c42" stroke-width="1.25" opacity="1"/>
<circle cx="265.8" cy="526.9" r="1.45" fill="#b0d6f0" stroke="#0f2c42" stroke-width="1.25" opacity="1"/>
<circle cx="262.5" cy="530.8" r="1.45" fill="#b0d6f0" stroke="#0f2c42" stroke-width="1.25" opacity="1"/>
<circle cx="279.8" cy="501.2" r="1.45" fill="#f8c684" stroke="#2e1a00" stroke-width="1.25" opacity="1"/>
<circle cx="278.8" cy="510.8" r="1.45" fill="#f8c684" stroke="#2e1a00" stroke-width="1.25" opacity="1"/>
<circle cx="283.1" cy="514" r="1.45" fill="#f8c684" stroke="#2e1a00" stroke-width="1.25" opacity="1"/>
<circle cx="278.5" cy="518.5" r="1.45" fill="#f8c684" stroke="#2e1a00" stroke-width="1.25" opacity="1"/>
<circle cx="282.5" cy="517.5" r="1.45" fill="#f8c684" stroke="#2e1a00" stroke-width="1.25" opacity="1"/>
<circle cx="282.7" cy="521.2" r="1.45" fill="#f8c684" stroke="#2e1a00" stroke-width="1.25" opacity="1"/>
<line x1="251" y1="480.4" x2="251" y2="536.7" stroke="#222" stroke-width="1.1" />
<line x1="250.5" y1="536.2" x2="294.2" y2="536.2" stroke="#222" stroke-width="1.1" />
<line x1="248.4" y1="482.8" x2="251" y2="482.8" stroke="#222" stroke-width="0.9" />
<text x="245.1" y="485.7" font-size="8.2" text-anchor="end" fill="#2b2b2b" stroke="#2b2b2b" stroke-width="0.22">2.00</text>
<line x1="248.4" y1="493.4" x2="251" y2="493.4" stroke="#222" stroke-width="0.9" />
<text x="245.1" y="496.3" font-size="8.2" text-anchor="end" fill="#2b2b2b" stroke="#2b2b2b" stroke-width="0.22">1.50</text>
<line x1="248.4" y1="504" x2="251" y2="504" stroke="#222" stroke-width="0.9" />
<text x="245.1" y="506.9" font-size="8.2" text-anchor="end" fill="#2b2b2b" stroke="#2b2b2b" stroke-width="0.22">1.00</text>
<line x1="248.4" y1="514.6" x2="251" y2="514.6" stroke="#222" stroke-width="0.9" />
<text x="245.1" y="517.5" font-size="8.2" text-anchor="end" fill="#2b2b2b" stroke="#2b2b2b" stroke-width="0.22">0.50</text>
<line x1="248.4" y1="525.2" x2="251" y2="525.2" stroke="#222" stroke-width="0.9" />
<text x="245.1" y="528.1" font-size="8.2" text-anchor="end" fill="#2b2b2b" stroke="#2b2b2b" stroke-width="0.22">0.00</text>
<line x1="248.4" y1="535.8" x2="251" y2="535.8" stroke="#222" stroke-width="0.9" />
<text x="245.1" y="538.7" font-size="8.2" text-anchor="end" fill="#2b2b2b" stroke="#2b2b2b" stroke-width="0.22">−0.50</text>
<line x1="262.7" y1="536.2" x2="262.7" y2="539" stroke="#222" stroke-width="0.9" />
<line x1="283" y1="536.2" x2="283" y2="539" stroke="#222" stroke-width="0.9" />
<text x="265.5" y="546.7" font-size="8.5" text-anchor="end" fill="#2b2b2b" stroke="#2b2b2b" stroke-width="0.1" transform="rotate(-45 265.5 546.7)">FMC63</text>
<text x="285.8" y="546.7" font-size="8.5" text-anchor="end" fill="#2b2b2b" stroke="#2b2b2b" stroke-width="0.1" transform="rotate(-45 285.8 546.7)">CAT</text>
<text class="cd2" x="217.7" y="507.9" font-size="9.6" text-anchor="middle" fill="#333333" transform="rotate(-90 217.7 507.9)" textLength="34.7" lengthAdjust="spacingAndGlyphs">EMD NFAT1</text>
<line x1="262.8" y1="515.6" x2="262.8" y2="525.2" stroke="#333" stroke-width="0.9" />
<rect x="64" y="604.4" width="13.5" height="3.5" fill="#bcd9f3" stroke="none" stroke-width="1" rx="0" />
<rect x="84.2" y="601.17" width="13.5" height="6.73" fill="#fcd4a3" stroke="none" stroke-width="1" rx="0" />
<line x1="59.7" y1="607.9" x2="102.5" y2="607.9" stroke="#4a4a4a" stroke-width="1" stroke-dasharray="3,2.2" />
<line x1="71.2" y1="592.4" x2="91" y2="592.4" stroke="#3a3a3a" stroke-width="1.1" />
<text x="81.1" y="592.7" font-size="8.5" text-anchor="middle" fill="#1a1a1a" stroke="#1a1a1a" stroke-width="0.22">*</text>
<circle cx="73.2" cy="601.5" r="1.45" fill="#b0d6f0" stroke="#0f2c42" stroke-width="1.25" opacity="1"/>
<circle cx="72.4" cy="603.8" r="1.45" fill="#b0d6f0" stroke="#0f2c42" stroke-width="1.25" opacity="1"/>
<circle cx="70.1" cy="604.6" r="1.45" fill="#b0d6f0" stroke="#0f2c42" stroke-width="1.25" opacity="1"/>
<circle cx="72" cy="605.8" r="1.45" fill="#b0d6f0" stroke="#0f2c42" stroke-width="1.25" opacity="1"/>
<circle cx="87" cy="596.5" r="1.45" fill="#f8c684" stroke="#2e1a00" stroke-width="1.25" opacity="1"/>
<circle cx="92" cy="594.6" r="1.45" fill="#f8c684" stroke="#2e1a00" stroke-width="1.25" opacity="1"/>
<circle cx="87.8" cy="600.8" r="1.45" fill="#f8c684" stroke="#2e1a00" stroke-width="1.25" opacity="1"/>
<circle cx="89.2" cy="601.6" r="1.45" fill="#f8c684" stroke="#2e1a00" stroke-width="1.25" opacity="1"/>
<circle cx="91.6" cy="603.1" r="1.45" fill="#f8c684" stroke="#2e1a00" stroke-width="1.25" opacity="1"/>
<circle cx="90.5" cy="604.6" r="1.45" fill="#f8c684" stroke="#2e1a00" stroke-width="1.25" opacity="1"/>
<line x1="59.2" y1="579" x2="59.2" y2="635.3" stroke="#222" stroke-width="1.1" />
<line x1="58.7" y1="634.8" x2="102.5" y2="634.8" stroke="#222" stroke-width="1.1" />
<line x1="56.6" y1="581" x2="59.2" y2="581" stroke="#222" stroke-width="0.9" />
<text x="53.3" y="583.9" font-size="8.2" text-anchor="end" fill="#2b2b2b" stroke="#2b2b2b" stroke-width="0.22">0.50</text>
<line x1="56.6" y1="594.45" x2="59.2" y2="594.45" stroke="#222" stroke-width="0.9" />
<text x="53.3" y="597.35" font-size="8.2" text-anchor="end" fill="#2b2b2b" stroke="#2b2b2b" stroke-width="0.22">0.25</text>
<line x1="56.6" y1="607.9" x2="59.2" y2="607.9" stroke="#222" stroke-width="0.9" />
<text x="53.3" y="610.8" font-size="8.2" text-anchor="end" fill="#2b2b2b" stroke="#2b2b2b" stroke-width="0.22">0.00</text>
<line x1="56.6" y1="621.35" x2="59.2" y2="621.35" stroke="#222" stroke-width="0.9" />
<text x="53.3" y="624.25" font-size="8.2" text-anchor="end" fill="#2b2b2b" stroke="#2b2b2b" stroke-width="0.22">−0.25</text>
<line x1="56.6" y1="634.8" x2="59.2" y2="634.8" stroke="#222" stroke-width="0.9" />
<text x="53.3" y="637.7" font-size="8.2" text-anchor="end" fill="#2b2b2b" stroke="#2b2b2b" stroke-width="0.22">−0.50</text>
<line x1="70.7" y1="634.8" x2="70.7" y2="637.6" stroke="#222" stroke-width="0.9" />
<line x1="90.9" y1="634.8" x2="90.9" y2="637.6" stroke="#222" stroke-width="0.9" />
<text x="73.5" y="645.3" font-size="8.5" text-anchor="end" fill="#2b2b2b" stroke="#2b2b2b" stroke-width="0.1" transform="rotate(-45 73.5 645.3)">FMC63</text>
<text x="93.7" y="645.3" font-size="8.5" text-anchor="end" fill="#2b2b2b" stroke="#2b2b2b" stroke-width="0.1" transform="rotate(-45 93.7 645.3)">CAT</text>
<text class="cd2" x="25.6" y="606.4" font-size="9.6" text-anchor="middle" fill="#333333" transform="rotate(-90 25.6 606.4)" textLength="39" lengthAdjust="spacingAndGlyphs">EMD pZAP70</text>
<rect x="157.7" y="603.6" width="13.5" height="4.3" fill="#bcd9f3" stroke="none" stroke-width="1" rx="0" />
<rect x="177.3" y="600.37" width="13.5" height="7.53" fill="#fcd4a3" stroke="none" stroke-width="1" rx="0" />
<line x1="152.4" y1="607.9" x2="195.6" y2="607.9" stroke="#4a4a4a" stroke-width="1" stroke-dasharray="3,2.2" />
<line x1="165.4" y1="592.9" x2="184" y2="592.9" stroke="#3a3a3a" stroke-width="1.1" />
<text x="174.7" y="593.5" font-size="8.5" text-anchor="middle" fill="#1a1a1a" stroke="#1a1a1a" stroke-width="0.22">**</text>
<circle cx="163.5" cy="603.5" r="1.45" fill="#b0d6f0" stroke="#0f2c42" stroke-width="1.25" opacity="1"/>
<circle cx="165.8" cy="603.1" r="1.45" fill="#b0d6f0" stroke="#0f2c42" stroke-width="1.25" opacity="1"/>
<circle cx="167.3" cy="603.8" r="1.45" fill="#b0d6f0" stroke="#0f2c42" stroke-width="1.25" opacity="1"/>
<circle cx="180.8" cy="595.8" r="1.45" fill="#f8c684" stroke="#2e1a00" stroke-width="1.25" opacity="1"/>
<circle cx="185.4" cy="596.2" r="1.45" fill="#f8c684" stroke="#2e1a00" stroke-width="1.25" opacity="1"/>
<circle cx="181.2" cy="598.1" r="1.45" fill="#f8c684" stroke="#2e1a00" stroke-width="1.25" opacity="1"/>
<circle cx="185.2" cy="598.4" r="1.45" fill="#f8c684" stroke="#2e1a00" stroke-width="1.25" opacity="1"/>
<circle cx="184.2" cy="599.6" r="1.45" fill="#f8c684" stroke="#2e1a00" stroke-width="1.25" opacity="1"/>
<circle cx="181.5" cy="602.3" r="1.45" fill="#f8c684" stroke="#2e1a00" stroke-width="1.25" opacity="1"/>
<circle cx="184.6" cy="602.3" r="1.45" fill="#f8c684" stroke="#2e1a00" stroke-width="1.25" opacity="1"/>
<line x1="151.9" y1="579" x2="151.9" y2="635" stroke="#222" stroke-width="1.1" />
<line x1="151.4" y1="634.5" x2="195.6" y2="634.5" stroke="#222" stroke-width="1.1" />
<line x1="149.3" y1="581" x2="151.9" y2="581" stroke="#222" stroke-width="0.9" />
<text x="146" y="583.9" font-size="8.2" text-anchor="end" fill="#2b2b2b" stroke="#2b2b2b" stroke-width="0.22">0.50</text>
<line x1="149.3" y1="594.45" x2="151.9" y2="594.45" stroke="#222" stroke-width="0.9" />
<text x="146" y="597.35" font-size="8.2" text-anchor="end" fill="#2b2b2b" stroke="#2b2b2b" stroke-width="0.22">0.25</text>
<line x1="149.3" y1="607.9" x2="151.9" y2="607.9" stroke="#222" stroke-width="0.9" />
<text x="146" y="610.8" font-size="8.2" text-anchor="end" fill="#2b2b2b" stroke="#2b2b2b" stroke-width="0.22">0.00</text>
<line x1="149.3" y1="621.35" x2="151.9" y2="621.35" stroke="#222" stroke-width="0.9" />
<text x="146" y="624.25" font-size="8.2" text-anchor="end" fill="#2b2b2b" stroke="#2b2b2b" stroke-width="0.22">−0.25</text>
<line x1="149.3" y1="634.8" x2="151.9" y2="634.8" stroke="#222" stroke-width="0.9" />
<text x="146" y="637.7" font-size="8.2" text-anchor="end" fill="#2b2b2b" stroke="#2b2b2b" stroke-width="0.22">−0.50</text>
<line x1="164.2" y1="634.5" x2="164.2" y2="637.3" stroke="#222" stroke-width="0.9" />
<line x1="184.2" y1="634.5" x2="184.2" y2="637.3" stroke="#222" stroke-width="0.9" />
<text x="167" y="645" font-size="8.5" text-anchor="end" fill="#2b2b2b" stroke="#2b2b2b" stroke-width="0.1" transform="rotate(-45 167 645)">FMC63</text>
<text x="187" y="645" font-size="8.5" text-anchor="end" fill="#2b2b2b" stroke="#2b2b2b" stroke-width="0.1" transform="rotate(-45 187 645)">CAT</text>
<text class="cd2" x="118.8" y="606.5" font-size="9.6" text-anchor="middle" fill="#333333" transform="rotate(-90 118.8 606.5)" textLength="27.4" lengthAdjust="spacingAndGlyphs">EMD pS6</text>
<rect x="358.5" y="420.55" width="11.9" height="17.25" fill="#e4e4e6" stroke="none" stroke-width="1" rx="0" />
<rect x="375.2" y="420.55" width="11.7" height="17.25" fill="#bcd9f3" stroke="none" stroke-width="1" rx="0" />
<rect x="391.7" y="412.7" width="12" height="25.1" fill="#fcd4a3" stroke="none" stroke-width="1" rx="0" />
<line x1="355" y1="437.8" x2="408.1" y2="437.8" stroke="#4a4a4a" stroke-width="1" stroke-dasharray="3,2.2" />
<line x1="365.2" y1="380.2" x2="398.5" y2="380.2" stroke="#3a3a3a" stroke-width="1.1" />
<text x="381.85" y="377.5" font-size="7.7" text-anchor="middle" fill="#333" stroke="#333" stroke-width="0.2">0.002</text>
<line x1="365.2" y1="393.7" x2="381.2" y2="393.7" stroke="#3a3a3a" stroke-width="1.1" />
<text x="373.2" y="391.1" font-size="7.7" text-anchor="middle" fill="#333" stroke="#333" stroke-width="0.2">0.931</text>
<line x1="381.2" y1="404.2" x2="398.5" y2="404.2" stroke="#3a3a3a" stroke-width="1.1" />
<text x="389.85" y="401.7" font-size="7.7" text-anchor="middle" fill="#333" stroke="#333" stroke-width="0.2">0.054</text>
<circle cx="364.5" cy="413.8" r="1.45" fill="#f4f4f4" stroke="#262626" stroke-width="1.25" opacity="1"/>
<circle cx="367.2" cy="416.9" r="1.45" fill="#f4f4f4" stroke="#262626" stroke-width="1.25" opacity="1"/>
<circle cx="364" cy="421.8" r="1.45" fill="#f4f4f4" stroke="#262626" stroke-width="1.25" opacity="1"/>
<circle cx="365.2" cy="422.8" r="1.45" fill="#f4f4f4" stroke="#262626" stroke-width="1.25" opacity="1"/>
<circle cx="366.1" cy="425.9" r="1.45" fill="#f4f4f4" stroke="#262626" stroke-width="1.25" opacity="1"/>
<circle cx="379.3" cy="415.3" r="1.45" fill="#b0d6f0" stroke="#0f2c42" stroke-width="1.25" opacity="1"/>
<circle cx="383" cy="418.5" r="1.45" fill="#b0d6f0" stroke="#0f2c42" stroke-width="1.25" opacity="1"/>
<circle cx="379" cy="418.2" r="1.45" fill="#b0d6f0" stroke="#0f2c42" stroke-width="1.25" opacity="1"/>
<circle cx="380.9" cy="420.6" r="1.45" fill="#b0d6f0" stroke="#0f2c42" stroke-width="1.25" opacity="1"/>
<circle cx="378.3" cy="423.8" r="1.45" fill="#b0d6f0" stroke="#0f2c42" stroke-width="1.25" opacity="1"/>
<circle cx="380.4" cy="429.6" r="1.45" fill="#b0d6f0" stroke="#0f2c42" stroke-width="1.25" opacity="1"/>
<circle cx="397.9" cy="407.4" r="1.45" fill="#f8c684" stroke="#2e1a00" stroke-width="1.25" opacity="1"/>
<circle cx="401" cy="411.1" r="1.45" fill="#f8c684" stroke="#2e1a00" stroke-width="1.25" opacity="1"/>
<circle cx="398.3" cy="412.2" r="1.45" fill="#f8c684" stroke="#2e1a00" stroke-width="1.25" opacity="1"/>
<circle cx="394.7" cy="417.5" r="1.45" fill="#f8c684" stroke="#2e1a00" stroke-width="1.25" opacity="1"/>
<circle cx="399.4" cy="416.9" r="1.45" fill="#f8c684" stroke="#2e1a00" stroke-width="1.25" opacity="1"/>
<line x1="354.5" y1="384" x2="354.5" y2="452.98" stroke="#222" stroke-width="1.1" />
<line x1="354" y1="452.48" x2="408.1" y2="452.48" stroke="#222" stroke-width="1.1" />
<line x1="351.1" y1="452.48" x2="354.5" y2="452.48" stroke="#222" stroke-width="0.9" />
<text x="347.7" y="454.98" font-size="7.1" text-anchor="end" fill="#2b2b2b" stroke="#2b2b2b" stroke-width="0.22">−4</text>
<line x1="351.1" y1="445.14" x2="354.5" y2="445.14" stroke="#222" stroke-width="0.9" />
<text x="347.7" y="447.64" font-size="7.1" text-anchor="end" fill="#2b2b2b" stroke="#2b2b2b" stroke-width="0.22">−2</text>
<line x1="351.1" y1="437.8" x2="354.5" y2="437.8" stroke="#222" stroke-width="0.9" />
<text x="347.7" y="440.3" font-size="7.1" text-anchor="end" fill="#2b2b2b" stroke="#2b2b2b" stroke-width="0.22">0</text>
<line x1="351.1" y1="430.46" x2="354.5" y2="430.46" stroke="#222" stroke-width="0.9" />
<text x="347.7" y="432.96" font-size="7.1" text-anchor="end" fill="#2b2b2b" stroke="#2b2b2b" stroke-width="0.22">2</text>
<line x1="351.1" y1="423.12" x2="354.5" y2="423.12" stroke="#222" stroke-width="0.9" />
<text x="347.7" y="425.62" font-size="7.1" text-anchor="end" fill="#2b2b2b" stroke="#2b2b2b" stroke-width="0.22">4</text>
<line x1="351.1" y1="415.78" x2="354.5" y2="415.78" stroke="#222" stroke-width="0.9" />
<text x="347.7" y="418.28" font-size="7.1" text-anchor="end" fill="#2b2b2b" stroke="#2b2b2b" stroke-width="0.22">6</text>
<line x1="351.1" y1="408.44" x2="354.5" y2="408.44" stroke="#222" stroke-width="0.9" />
<text x="347.7" y="410.94" font-size="7.1" text-anchor="end" fill="#2b2b2b" stroke="#2b2b2b" stroke-width="0.22">8</text>
<line x1="351.1" y1="401.1" x2="354.5" y2="401.1" stroke="#222" stroke-width="0.9" />
<text x="347.7" y="403.6" font-size="7.1" text-anchor="end" fill="#2b2b2b" stroke="#2b2b2b" stroke-width="0.22">10</text>
<line x1="351.1" y1="393.76" x2="354.5" y2="393.76" stroke="#222" stroke-width="0.9" />
<text x="347.7" y="396.26" font-size="7.1" text-anchor="end" fill="#2b2b2b" stroke="#2b2b2b" stroke-width="0.22">12</text>
<line x1="351.1" y1="386.42" x2="354.5" y2="386.42" stroke="#222" stroke-width="0.9" />
<text x="347.7" y="388.92" font-size="7.1" text-anchor="end" fill="#2b2b2b" stroke="#2b2b2b" stroke-width="0.22">14</text>
<line x1="364.5" y1="452.48" x2="364.5" y2="455.28" stroke="#222" stroke-width="0.9" />
<line x1="381" y1="452.48" x2="381" y2="455.28" stroke="#222" stroke-width="0.9" />
<line x1="397.7" y1="452.48" x2="397.7" y2="455.28" stroke="#222" stroke-width="0.9" />
<text x="367.7" y="462.28" font-size="7.6" text-anchor="end" fill="#2b2b2b" stroke="#2b2b2b" stroke-width="0.1" transform="rotate(-45 367.7 462.28)">UNTR</text>
<text x="384.2" y="462.28" font-size="7.6" text-anchor="end" fill="#2b2b2b" stroke="#2b2b2b" stroke-width="0.1" transform="rotate(-45 384.2 462.28)">FMC63</text>
<text x="400.9" y="462.28" font-size="7.6" text-anchor="end" fill="#2b2b2b" stroke="#2b2b2b" stroke-width="0.1" transform="rotate(-45 400.9 462.28)">CAT</text>
<text class="cd" x="331.2" y="418.1" font-size="9.3" text-anchor="middle" fill="#333333" transform="rotate(-90 331.2 418.1)" textLength="43.8" lengthAdjust="spacingAndGlyphs">log<tspan font-size="6.6" dy="1.6">2</tspan><tspan dy="-1.6">CPM </tspan><tspan font-style="italic">GNLY</tspan></text>
<rect x="459.4" y="421.65" width="12.1" height="16.15" fill="#e2dfe8" stroke="none" stroke-width="1" rx="0" />
<rect x="476.2" y="426.61" width="12.1" height="11.19" fill="#bcd9f3" stroke="none" stroke-width="1" rx="0" />
<rect x="492.7" y="421.65" width="11.9" height="16.15" fill="#fcd4a3" stroke="none" stroke-width="1" rx="0" />
<line x1="456.1" y1="437.8" x2="508.8" y2="437.8" stroke="#4a4a4a" stroke-width="1" stroke-dasharray="3,2.2" />
<line x1="465.8" y1="387.9" x2="498.8" y2="387.9" stroke="#3a3a3a" stroke-width="1.1" />
<text x="482.3" y="385.4" font-size="7.7" text-anchor="middle" fill="#333" stroke="#333" stroke-width="0.2">0.824</text>
<line x1="465.8" y1="401" x2="481.9" y2="401" stroke="#3a3a3a" stroke-width="1.1" />
<text x="473.85" y="398.5" font-size="7.7" text-anchor="middle" fill="#333" stroke="#333" stroke-width="0.2">0.215</text>
<line x1="481.9" y1="411.5" x2="498.8" y2="411.5" stroke="#3a3a3a" stroke-width="1.1" />
<text x="490.35" y="409" font-size="7.7" text-anchor="middle" fill="#333" stroke="#333" stroke-width="0.2">0.059</text>
<circle cx="466.1" cy="414.8" r="1.45" fill="#f4f4f4" stroke="#262626" stroke-width="1.25" opacity="1"/>
<circle cx="468.2" cy="417.5" r="1.45" fill="#f4f4f4" stroke="#262626" stroke-width="1.25" opacity="1"/>
<circle cx="466.8" cy="420.6" r="1.45" fill="#f4f4f4" stroke="#262626" stroke-width="1.25" opacity="1"/>
<circle cx="466.6" cy="422.4" r="1.45" fill="#f4f4f4" stroke="#262626" stroke-width="1.25" opacity="1"/>
<circle cx="468.7" cy="424.3" r="1.45" fill="#f4f4f4" stroke="#262626" stroke-width="1.25" opacity="1"/>
<circle cx="465" cy="426.5" r="1.45" fill="#f4f4f4" stroke="#262626" stroke-width="1.25" opacity="1"/>
<circle cx="479.8" cy="422.8" r="1.45" fill="#b0d6f0" stroke="#0f2c42" stroke-width="1.25" opacity="1"/>
<circle cx="481.9" cy="423.8" r="1.45" fill="#b0d6f0" stroke="#0f2c42" stroke-width="1.25" opacity="1"/>
<circle cx="480.5" cy="424.9" r="1.45" fill="#b0d6f0" stroke="#0f2c42" stroke-width="1.25" opacity="1"/>
<circle cx="483.5" cy="425.4" r="1.45" fill="#b0d6f0" stroke="#0f2c42" stroke-width="1.25" opacity="1"/>
<circle cx="484.6" cy="433.9" r="1.45" fill="#b0d6f0" stroke="#0f2c42" stroke-width="1.25" opacity="1"/>
<circle cx="500.4" cy="414.3" r="1.45" fill="#f8c684" stroke="#2e1a00" stroke-width="1.25" opacity="1"/>
<circle cx="498.9" cy="418.5" r="1.45" fill="#f8c684" stroke="#2e1a00" stroke-width="1.25" opacity="1"/>
<circle cx="499.9" cy="420.6" r="1.45" fill="#f8c684" stroke="#2e1a00" stroke-width="1.25" opacity="1"/>
<circle cx="496.2" cy="422.2" r="1.45" fill="#f8c684" stroke="#2e1a00" stroke-width="1.25" opacity="1"/>
<circle cx="503.1" cy="421.7" r="1.45" fill="#f8c684" stroke="#2e1a00" stroke-width="1.25" opacity="1"/>
<circle cx="500.6" cy="422.6" r="1.45" fill="#f8c684" stroke="#2e1a00" stroke-width="1.25" opacity="1"/>
<line x1="455.6" y1="384" x2="455.6" y2="452.98" stroke="#222" stroke-width="1.1" />
<line x1="455.1" y1="452.48" x2="508.8" y2="452.48" stroke="#222" stroke-width="1.1" />
<line x1="452.2" y1="452.48" x2="455.6" y2="452.48" stroke="#222" stroke-width="0.9" />
<text x="448.8" y="454.98" font-size="7.1" text-anchor="end" fill="#2b2b2b" stroke="#2b2b2b" stroke-width="0.22">−4</text>
<line x1="452.2" y1="445.14" x2="455.6" y2="445.14" stroke="#222" stroke-width="0.9" />
<text x="448.8" y="447.64" font-size="7.1" text-anchor="end" fill="#2b2b2b" stroke="#2b2b2b" stroke-width="0.22">−2</text>
<line x1="452.2" y1="437.8" x2="455.6" y2="437.8" stroke="#222" stroke-width="0.9" />
<text x="448.8" y="440.3" font-size="7.1" text-anchor="end" fill="#2b2b2b" stroke="#2b2b2b" stroke-width="0.22">0</text>
<line x1="452.2" y1="430.46" x2="455.6" y2="430.46" stroke="#222" stroke-width="0.9" />
<text x="448.8" y="432.96" font-size="7.1" text-anchor="end" fill="#2b2b2b" stroke="#2b2b2b" stroke-width="0.22">2</text>
<line x1="452.2" y1="423.12" x2="455.6" y2="423.12" stroke="#222" stroke-width="0.9" />
<text x="448.8" y="425.62" font-size="7.1" text-anchor="end" fill="#2b2b2b" stroke="#2b2b2b" stroke-width="0.22">4</text>
<line x1="452.2" y1="415.78" x2="455.6" y2="415.78" stroke="#222" stroke-width="0.9" />
<text x="448.8" y="418.28" font-size="7.1" text-anchor="end" fill="#2b2b2b" stroke="#2b2b2b" stroke-width="0.22">6</text>
<line x1="452.2" y1="408.44" x2="455.6" y2="408.44" stroke="#222" stroke-width="0.9" />
<text x="448.8" y="410.94" font-size="7.1" text-anchor="end" fill="#2b2b2b" stroke="#2b2b2b" stroke-width="0.22">8</text>
<line x1="452.2" y1="401.1" x2="455.6" y2="401.1" stroke="#222" stroke-width="0.9" />
<text x="448.8" y="403.6" font-size="7.1" text-anchor="end" fill="#2b2b2b" stroke="#2b2b2b" stroke-width="0.22">10</text>
<line x1="452.2" y1="393.76" x2="455.6" y2="393.76" stroke="#222" stroke-width="0.9" />
<text x="448.8" y="396.26" font-size="7.1" text-anchor="end" fill="#2b2b2b" stroke="#2b2b2b" stroke-width="0.22">12</text>
<line x1="452.2" y1="386.42" x2="455.6" y2="386.42" stroke="#222" stroke-width="0.9" />
<text x="448.8" y="388.92" font-size="7.1" text-anchor="end" fill="#2b2b2b" stroke="#2b2b2b" stroke-width="0.22">14</text>
<line x1="465.5" y1="452.48" x2="465.5" y2="455.28" stroke="#222" stroke-width="0.9" />
<line x1="482.2" y1="452.48" x2="482.2" y2="455.28" stroke="#222" stroke-width="0.9" />
<line x1="498.6" y1="452.48" x2="498.6" y2="455.28" stroke="#222" stroke-width="0.9" />
<text x="468.7" y="462.28" font-size="7.6" text-anchor="end" fill="#2b2b2b" stroke="#2b2b2b" stroke-width="0.1" transform="rotate(-45 468.7 462.28)">UNTR</text>
<text x="485.4" y="462.28" font-size="7.6" text-anchor="end" fill="#2b2b2b" stroke="#2b2b2b" stroke-width="0.1" transform="rotate(-45 485.4 462.28)">FMC63</text>
<text x="501.8" y="462.28" font-size="7.6" text-anchor="end" fill="#2b2b2b" stroke="#2b2b2b" stroke-width="0.1" transform="rotate(-45 501.8 462.28)">CAT</text>
<text class="cd" x="432.2" y="417" font-size="9.3" text-anchor="middle" fill="#333333" transform="rotate(-90 432.2 417)" textLength="46.9" lengthAdjust="spacingAndGlyphs">log<tspan font-size="6.6" dy="1.6">2</tspan><tspan dy="-1.6">CPM </tspan><tspan font-style="italic">GZMK</tspan></text>
<rect x="358.1" y="558.55" width="12.7" height="16.15" fill="#e4e4e6" stroke="none" stroke-width="1" rx="0" />
<rect x="375.3" y="546.44" width="12.1" height="28.26" fill="#bcd9f3" stroke="none" stroke-width="1" rx="0" />
<rect x="392.3" y="540.57" width="11.7" height="34.13" fill="#fcd4a3" stroke="none" stroke-width="1" rx="0" />
<line x1="355.3" y1="574.7" x2="408.1" y2="574.7" stroke="#4a4a4a" stroke-width="1" stroke-dasharray="3,2.2" />
<line x1="364.5" y1="553" x2="364.5" y2="565.2" stroke="#333" stroke-width="0.9" />
<line x1="365.9" y1="507.3" x2="398.1" y2="507.3" stroke="#3a3a3a" stroke-width="1.1" />
<text x="381.2" y="504.5" font-size="7.8" text-anchor="middle" fill="#333" stroke="#333" stroke-width="0.2">3.46e<tspan font-size="5.4" dy="-2.6">−14</tspan></text>
<line x1="365.9" y1="519" x2="380.5" y2="519" stroke="#3a3a3a" stroke-width="1.1" />
<text x="373.2" y="516.5" font-size="7.7" text-anchor="middle" fill="#333" stroke="#333" stroke-width="0.2">0.009</text>
<line x1="381.5" y1="529.8" x2="398.1" y2="529.8" stroke="#3a3a3a" stroke-width="1.1" />
<text x="389.8" y="527.3" font-size="7.7" text-anchor="middle" fill="#333" stroke="#333" stroke-width="0.2">0.066</text>
<circle cx="365.6" cy="545.1" r="1.45" fill="#f4f4f4" stroke="#262626" stroke-width="1.25" opacity="1"/>
<circle cx="364" cy="547.2" r="1.45" fill="#f4f4f4" stroke="#262626" stroke-width="1.25" opacity="1"/>
<circle cx="367.2" cy="549.9" r="1.45" fill="#f4f4f4" stroke="#262626" stroke-width="1.25" opacity="1"/>
<circle cx="365.1" cy="565.7" r="1.45" fill="#f4f4f4" stroke="#262626" stroke-width="1.25" opacity="1"/>
<circle cx="366" cy="568" r="1.45" fill="#f4f4f4" stroke="#262626" stroke-width="1.25" opacity="1"/>
<circle cx="364.5" cy="570.5" r="1.45" fill="#f4f4f4" stroke="#262626" stroke-width="1.25" opacity="1"/>
<circle cx="378.8" cy="542.5" r="1.45" fill="#b0d6f0" stroke="#0f2c42" stroke-width="1.25" opacity="1"/>
<circle cx="380.4" cy="543.6" r="1.45" fill="#b0d6f0" stroke="#0f2c42" stroke-width="1.25" opacity="1"/>
<circle cx="378.3" cy="545.6" r="1.45" fill="#b0d6f0" stroke="#0f2c42" stroke-width="1.25" opacity="1"/>
<circle cx="382" cy="548.8" r="1.45" fill="#b0d6f0" stroke="#0f2c42" stroke-width="1.25" opacity="1"/>
<circle cx="383.6" cy="553.6" r="1.45" fill="#b0d6f0" stroke="#0f2c42" stroke-width="1.25" opacity="1"/>
<circle cx="398.4" cy="532.9" r="1.45" fill="#f8c684" stroke="#2e1a00" stroke-width="1.25" opacity="1"/>
<circle cx="397.9" cy="535.6" r="1.45" fill="#f8c684" stroke="#2e1a00" stroke-width="1.25" opacity="1"/>
<circle cx="398.4" cy="541.9" r="1.45" fill="#f8c684" stroke="#2e1a00" stroke-width="1.25" opacity="1"/>
<circle cx="401" cy="543" r="1.45" fill="#f8c684" stroke="#2e1a00" stroke-width="1.25" opacity="1"/>
<circle cx="394.7" cy="552" r="1.45" fill="#f8c684" stroke="#2e1a00" stroke-width="1.25" opacity="1"/>
<line x1="354.8" y1="521" x2="354.8" y2="589.88" stroke="#222" stroke-width="1.1" />
<line x1="354.3" y1="589.38" x2="408.1" y2="589.38" stroke="#222" stroke-width="1.1" />
<line x1="351.4" y1="589.38" x2="354.8" y2="589.38" stroke="#222" stroke-width="0.9" />
<text x="348" y="591.88" font-size="7.1" text-anchor="end" fill="#2b2b2b" stroke="#2b2b2b" stroke-width="0.22">−4</text>
<line x1="351.4" y1="582.04" x2="354.8" y2="582.04" stroke="#222" stroke-width="0.9" />
<text x="348" y="584.54" font-size="7.1" text-anchor="end" fill="#2b2b2b" stroke="#2b2b2b" stroke-width="0.22">−2</text>
<line x1="351.4" y1="574.7" x2="354.8" y2="574.7" stroke="#222" stroke-width="0.9" />
<text x="348" y="577.2" font-size="7.1" text-anchor="end" fill="#2b2b2b" stroke="#2b2b2b" stroke-width="0.22">0</text>
<line x1="351.4" y1="567.36" x2="354.8" y2="567.36" stroke="#222" stroke-width="0.9" />
<text x="348" y="569.86" font-size="7.1" text-anchor="end" fill="#2b2b2b" stroke="#2b2b2b" stroke-width="0.22">2</text>
<line x1="351.4" y1="560.02" x2="354.8" y2="560.02" stroke="#222" stroke-width="0.9" />
<text x="348" y="562.52" font-size="7.1" text-anchor="end" fill="#2b2b2b" stroke="#2b2b2b" stroke-width="0.22">4</text>
<line x1="351.4" y1="552.68" x2="354.8" y2="552.68" stroke="#222" stroke-width="0.9" />
<text x="348" y="555.18" font-size="7.1" text-anchor="end" fill="#2b2b2b" stroke="#2b2b2b" stroke-width="0.22">6</text>
<line x1="351.4" y1="545.34" x2="354.8" y2="545.34" stroke="#222" stroke-width="0.9" />
<text x="348" y="547.84" font-size="7.1" text-anchor="end" fill="#2b2b2b" stroke="#2b2b2b" stroke-width="0.22">8</text>
<line x1="351.4" y1="538" x2="354.8" y2="538" stroke="#222" stroke-width="0.9" />
<text x="348" y="540.5" font-size="7.1" text-anchor="end" fill="#2b2b2b" stroke="#2b2b2b" stroke-width="0.22">10</text>
<line x1="351.4" y1="530.66" x2="354.8" y2="530.66" stroke="#222" stroke-width="0.9" />
<text x="348" y="533.16" font-size="7.1" text-anchor="end" fill="#2b2b2b" stroke="#2b2b2b" stroke-width="0.22">12</text>
<line x1="351.4" y1="523.32" x2="354.8" y2="523.32" stroke="#222" stroke-width="0.9" />
<text x="348" y="525.82" font-size="7.1" text-anchor="end" fill="#2b2b2b" stroke="#2b2b2b" stroke-width="0.22">14</text>
<line x1="364.7" y1="589.38" x2="364.7" y2="592.18" stroke="#222" stroke-width="0.9" />
<line x1="381.3" y1="589.38" x2="381.3" y2="592.18" stroke="#222" stroke-width="0.9" />
<line x1="398" y1="589.38" x2="398" y2="592.18" stroke="#222" stroke-width="0.9" />
<text x="367.9" y="599.18" font-size="7.6" text-anchor="end" fill="#2b2b2b" stroke="#2b2b2b" stroke-width="0.1" transform="rotate(-45 367.9 599.18)">UNTR</text>
<text x="384.5" y="599.18" font-size="7.6" text-anchor="end" fill="#2b2b2b" stroke="#2b2b2b" stroke-width="0.1" transform="rotate(-45 384.5 599.18)">FMC63</text>
<text x="401.2" y="599.18" font-size="7.6" text-anchor="end" fill="#2b2b2b" stroke="#2b2b2b" stroke-width="0.1" transform="rotate(-45 401.2 599.18)">CAT</text>
<text class="cd" x="331" y="556.2" font-size="9.3" text-anchor="middle" fill="#333333" transform="rotate(-90 331 556.2)" textLength="57" lengthAdjust="spacingAndGlyphs">log<tspan font-size="6.6" dy="1.6">2</tspan><tspan dy="-1.6">CPM </tspan><tspan font-style="italic">HLA-DRA</tspan></text>
<rect x="460" y="561.49" width="12.3" height="13.21" fill="#e2dfe8" stroke="none" stroke-width="1" rx="0" />
<rect x="477" y="558.74" width="11.8" height="15.96" fill="#bcd9f3" stroke="none" stroke-width="1" rx="0" />
<rect x="493.2" y="550.85" width="11.8" height="23.86" fill="#fcd4a3" stroke="none" stroke-width="1" rx="0" />
<line x1="456.6" y1="574.7" x2="510.8" y2="574.7" stroke="#4a4a4a" stroke-width="1" stroke-dasharray="3,2.2" />
<line x1="466.5" y1="517.5" x2="500.1" y2="517.5" stroke="#3a3a3a" stroke-width="1.1" />
<text x="482.6" y="515" font-size="7.8" text-anchor="middle" fill="#333" stroke="#333" stroke-width="0.2">2.36e<tspan font-size="5.4" dy="-2.6">−04</tspan></text>
<line x1="466.5" y1="531.2" x2="482.1" y2="531.2" stroke="#3a3a3a" stroke-width="1.1" />
<text x="474.3" y="528.7" font-size="7.7" text-anchor="middle" fill="#333" stroke="#333" stroke-width="0.2">0.610</text>
<line x1="482.9" y1="541.5" x2="500.1" y2="541.5" stroke="#3a3a3a" stroke-width="1.1" />
<text x="491.5" y="539" font-size="7.7" text-anchor="middle" fill="#333" stroke="#333" stroke-width="0.2">0.004</text>
<circle cx="466.6" cy="548.8" r="1.45" fill="#f4f4f4" stroke="#262626" stroke-width="1.25" opacity="1"/>
<circle cx="467.6" cy="557.2" r="1.45" fill="#f4f4f4" stroke="#262626" stroke-width="1.25" opacity="1"/>
<circle cx="468.7" cy="560.9" r="1.45" fill="#f4f4f4" stroke="#262626" stroke-width="1.25" opacity="1"/>
<circle cx="467.3" cy="563" r="1.45" fill="#f4f4f4" stroke="#262626" stroke-width="1.25" opacity="1"/>
<circle cx="466.1" cy="565.2" r="1.45" fill="#f4f4f4" stroke="#262626" stroke-width="1.25" opacity="1"/>
<circle cx="465" cy="566.7" r="1.45" fill="#f4f4f4" stroke="#262626" stroke-width="1.25" opacity="1"/>
<circle cx="481.4" cy="554.6" r="1.45" fill="#b0d6f0" stroke="#0f2c42" stroke-width="1.25" opacity="1"/>
<circle cx="479.8" cy="556.7" r="1.45" fill="#b0d6f0" stroke="#0f2c42" stroke-width="1.25" opacity="1"/>
<circle cx="484" cy="556.7" r="1.45" fill="#b0d6f0" stroke="#0f2c42" stroke-width="1.25" opacity="1"/>
<circle cx="480.9" cy="559.3" r="1.45" fill="#b0d6f0" stroke="#0f2c42" stroke-width="1.25" opacity="1"/>
<circle cx="484.6" cy="565.2" r="1.45" fill="#b0d6f0" stroke="#0f2c42" stroke-width="1.25" opacity="1"/>
<circle cx="499.4" cy="545.1" r="1.45" fill="#f8c684" stroke="#2e1a00" stroke-width="1.25" opacity="1"/>
<circle cx="500.2" cy="546.8" r="1.45" fill="#f8c684" stroke="#2e1a00" stroke-width="1.25" opacity="1"/>
<circle cx="501" cy="551.4" r="1.45" fill="#f8c684" stroke="#2e1a00" stroke-width="1.25" opacity="1"/>
<circle cx="502.6" cy="554" r="1.45" fill="#f8c684" stroke="#2e1a00" stroke-width="1.25" opacity="1"/>
<circle cx="496.2" cy="558.8" r="1.45" fill="#f8c684" stroke="#2e1a00" stroke-width="1.25" opacity="1"/>
<line x1="456.1" y1="521" x2="456.1" y2="589.88" stroke="#222" stroke-width="1.1" />
<line x1="455.6" y1="589.38" x2="510.8" y2="589.38" stroke="#222" stroke-width="1.1" />
<line x1="452.7" y1="589.38" x2="456.1" y2="589.38" stroke="#222" stroke-width="0.9" />
<text x="449.3" y="591.88" font-size="7.1" text-anchor="end" fill="#2b2b2b" stroke="#2b2b2b" stroke-width="0.22">−4</text>
<line x1="452.7" y1="582.04" x2="456.1" y2="582.04" stroke="#222" stroke-width="0.9" />
<text x="449.3" y="584.54" font-size="7.1" text-anchor="end" fill="#2b2b2b" stroke="#2b2b2b" stroke-width="0.22">−2</text>
<line x1="452.7" y1="574.7" x2="456.1" y2="574.7" stroke="#222" stroke-width="0.9" />
<text x="449.3" y="577.2" font-size="7.1" text-anchor="end" fill="#2b2b2b" stroke="#2b2b2b" stroke-width="0.22">0</text>
<line x1="452.7" y1="567.36" x2="456.1" y2="567.36" stroke="#222" stroke-width="0.9" />
<text x="449.3" y="569.86" font-size="7.1" text-anchor="end" fill="#2b2b2b" stroke="#2b2b2b" stroke-width="0.22">2</text>
<line x1="452.7" y1="560.02" x2="456.1" y2="560.02" stroke="#222" stroke-width="0.9" />
<text x="449.3" y="562.52" font-size="7.1" text-anchor="end" fill="#2b2b2b" stroke="#2b2b2b" stroke-width="0.22">4</text>
<line x1="452.7" y1="552.68" x2="456.1" y2="552.68" stroke="#222" stroke-width="0.9" />
<text x="449.3" y="555.18" font-size="7.1" text-anchor="end" fill="#2b2b2b" stroke="#2b2b2b" stroke-width="0.22">6</text>
<line x1="452.7" y1="545.34" x2="456.1" y2="545.34" stroke="#222" stroke-width="0.9" />
<text x="449.3" y="547.84" font-size="7.1" text-anchor="end" fill="#2b2b2b" stroke="#2b2b2b" stroke-width="0.22">8</text>
<line x1="452.7" y1="538" x2="456.1" y2="538" stroke="#222" stroke-width="0.9" />
<text x="449.3" y="540.5" font-size="7.1" text-anchor="end" fill="#2b2b2b" stroke="#2b2b2b" stroke-width="0.22">10</text>
<line x1="452.7" y1="530.66" x2="456.1" y2="530.66" stroke="#222" stroke-width="0.9" />
<text x="449.3" y="533.16" font-size="7.1" text-anchor="end" fill="#2b2b2b" stroke="#2b2b2b" stroke-width="0.22">12</text>
<line x1="452.7" y1="523.32" x2="456.1" y2="523.32" stroke="#222" stroke-width="0.9" />
<text x="449.3" y="525.82" font-size="7.1" text-anchor="end" fill="#2b2b2b" stroke="#2b2b2b" stroke-width="0.22">14</text>
<line x1="466.2" y1="589.38" x2="466.2" y2="592.18" stroke="#222" stroke-width="0.9" />
<line x1="482.9" y1="589.38" x2="482.9" y2="592.18" stroke="#222" stroke-width="0.9" />
<line x1="499.1" y1="589.38" x2="499.1" y2="592.18" stroke="#222" stroke-width="0.9" />
<text x="469.4" y="599.18" font-size="7.6" text-anchor="end" fill="#2b2b2b" stroke="#2b2b2b" stroke-width="0.1" transform="rotate(-45 469.4 599.18)">UNTR</text>
<text x="486.1" y="599.18" font-size="7.6" text-anchor="end" fill="#2b2b2b" stroke="#2b2b2b" stroke-width="0.1" transform="rotate(-45 486.1 599.18)">FMC63</text>
<text x="502.3" y="599.18" font-size="7.6" text-anchor="end" fill="#2b2b2b" stroke="#2b2b2b" stroke-width="0.1" transform="rotate(-45 502.3 599.18)">CAT</text>
<text class="cd" x="432.8" y="555.5" font-size="9.3" text-anchor="middle" fill="#333333" transform="rotate(-90 432.8 555.5)" textLength="59.5" lengthAdjust="spacingAndGlyphs">log<tspan font-size="6.6" dy="1.6">2</tspan><tspan dy="-1.6">CPM </tspan><tspan font-style="italic">HLA-DPA1</tspan></text>
</svg>
</body></html>
